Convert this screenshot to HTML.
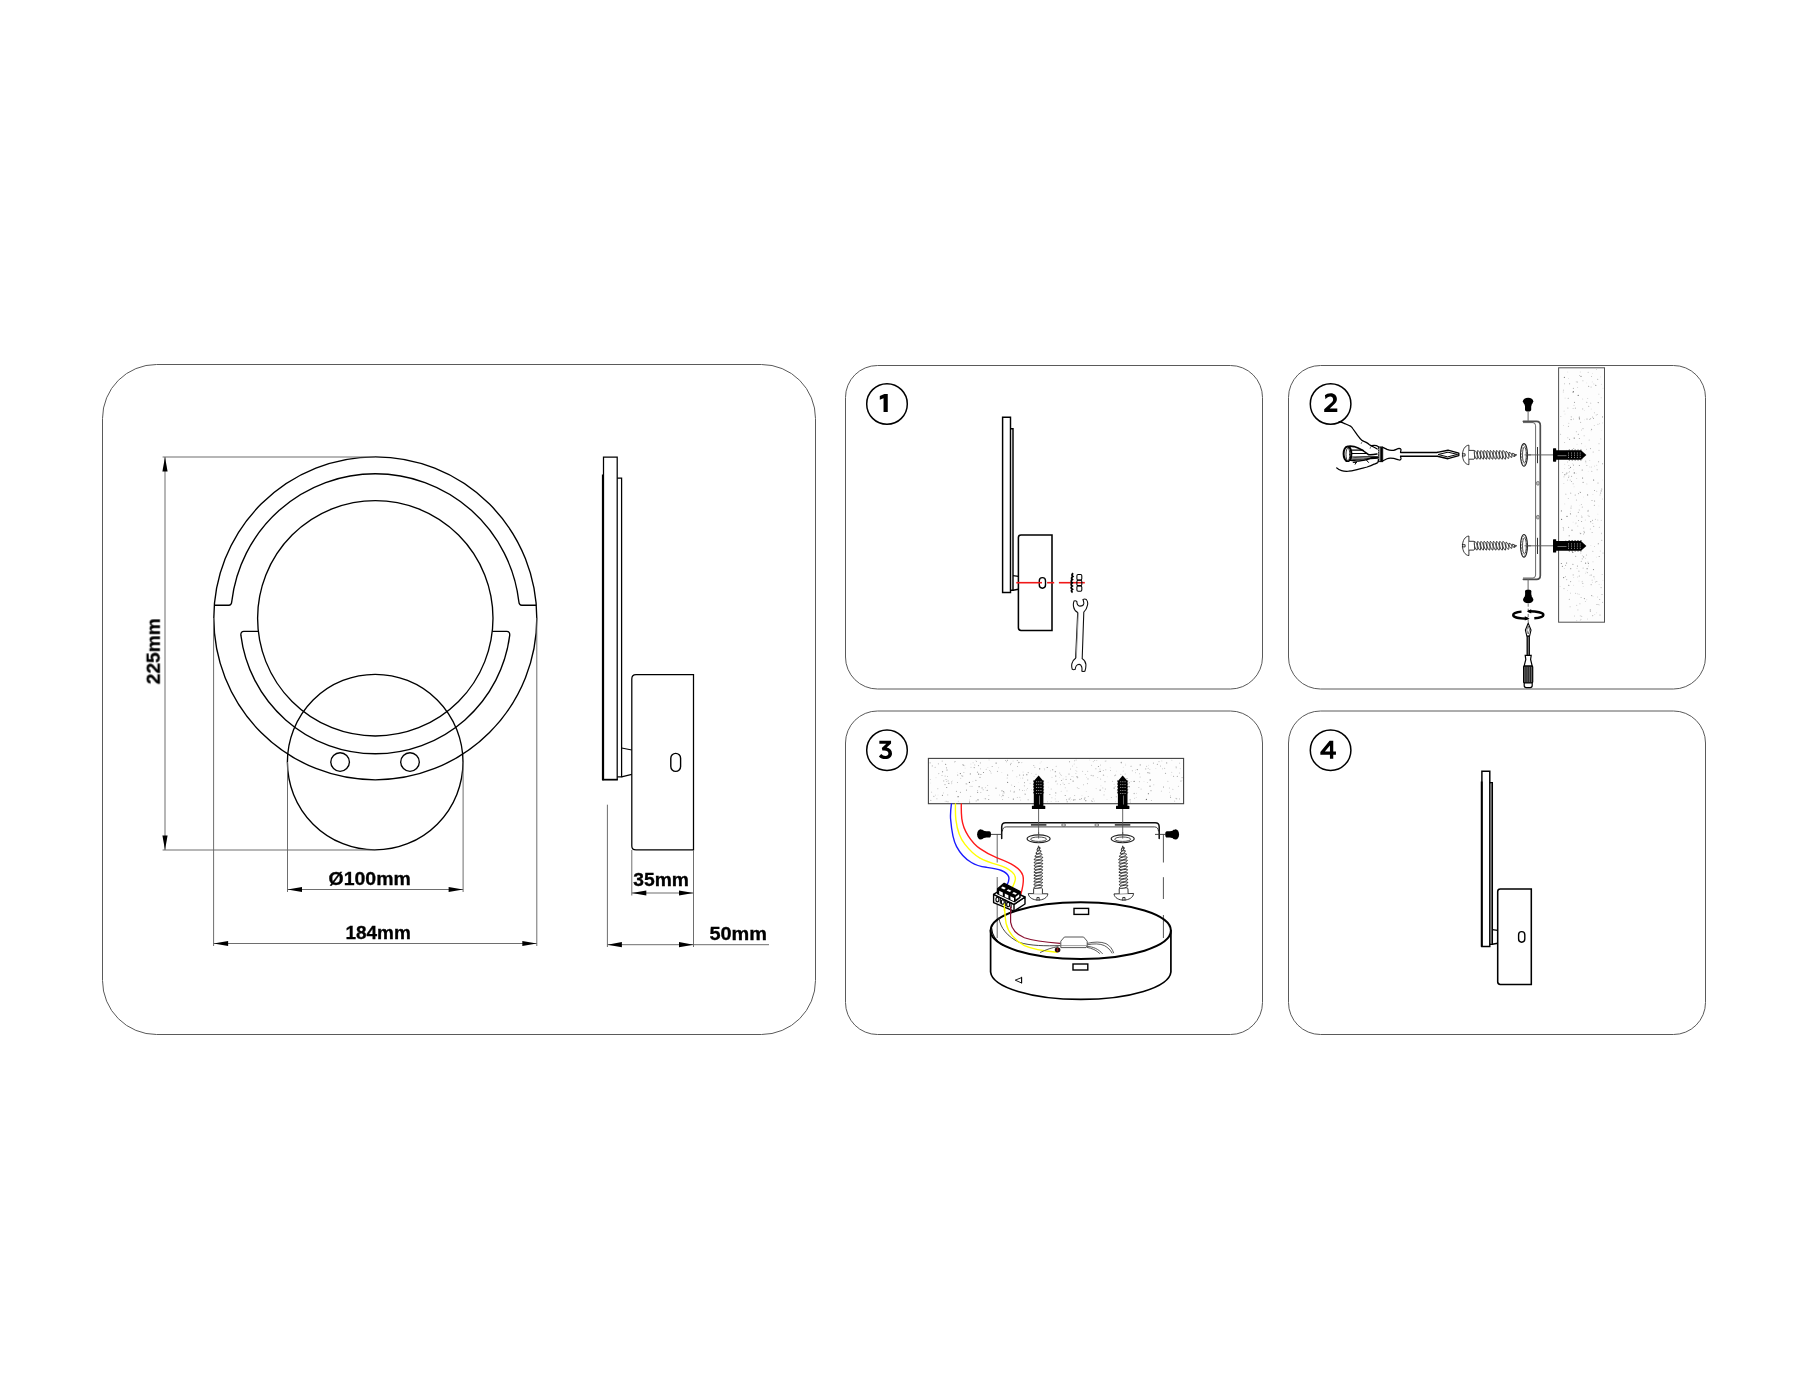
<!DOCTYPE html>
<html><head><meta charset="utf-8"><title>Installation diagram</title>
<style>
html,body{margin:0;padding:0;background:#fff;}
body{width:1800px;height:1400px;overflow:hidden;font-family:"Liberation Sans",sans-serif;}
svg{display:block;}
</style></head><body>
<svg width="1800" height="1400" viewBox="0 0 1800 1400">
<rect width="1800" height="1400" fill="#fff"/>
<g fill="none" stroke="#5a5a5a" stroke-width="1">
<rect x="102.5" y="364.5" width="713" height="670" rx="54" ry="54"/>
<rect x="845.5" y="365.5" width="417" height="323.5" rx="32" ry="32"/>
<rect x="1288.5" y="365.5" width="417" height="323.5" rx="32" ry="32"/>
<rect x="845.5" y="711" width="417" height="323.5" rx="32" ry="32"/>
<rect x="1288.5" y="711" width="417" height="323.5" rx="32" ry="32"/>
</g>
<g fill="none" stroke="#000" stroke-width="1.35">
<circle cx="375.3" cy="618.3" r="161.5"/>
<circle cx="375.3" cy="618.3" r="117.7"/>
<path d="M 214.33 605.20 H 228.79 Q 231.49 605.20 231.79 601.40 A 144.5 144.5 0 0 1 518.81 601.40 Q 519.11 605.20 521.81 605.20 H 536.27"/>
<path d="M 258.33 631.40 H 243.86 Q 240.66 631.40 240.86 635.20 A 135.5 135.5 0 0 0 509.74 635.20 Q 509.94 631.40 506.74 631.40 H 492.27"/>
<circle cx="375.2" cy="762.1" r="87.8"/>
<circle cx="340.1" cy="762" r="9.3"/>
<circle cx="410" cy="762" r="9.3"/>
</g>
<g>
<line x1="165.00" y1="457.00" x2="165.00" y2="850.00" stroke="#666" stroke-width="0.95" />
<line x1="162.60" y1="457.00" x2="375.00" y2="457.00" stroke="#666" stroke-width="0.95" />
<line x1="162.60" y1="850.00" x2="375.00" y2="850.00" stroke="#666" stroke-width="0.95" />
<polygon points="165.00,457.00 162.40,471.50 167.60,471.50" fill="#000"/>
<polygon points="165.00,850.00 162.40,835.50 167.60,835.50" fill="#000"/>
<line x1="213.60" y1="618.00" x2="213.60" y2="946.00" stroke="#666" stroke-width="0.95" />
<line x1="536.80" y1="618.00" x2="536.80" y2="946.00" stroke="#666" stroke-width="0.95" />
<line x1="287.50" y1="762.00" x2="287.50" y2="892.00" stroke="#666" stroke-width="0.95" />
<line x1="463.10" y1="762.00" x2="463.10" y2="892.00" stroke="#666" stroke-width="0.95" />
<line x1="287.50" y1="889.50" x2="463.10" y2="889.50" stroke="#666" stroke-width="0.95" />
<polygon points="287.50,889.50 302.00,886.90 302.00,892.10" fill="#000"/>
<polygon points="463.10,889.50 448.60,886.90 448.60,892.10" fill="#000"/>
<line x1="213.60" y1="943.50" x2="536.80" y2="943.50" stroke="#666" stroke-width="0.95" />
<polygon points="213.60,943.50 228.10,940.90 228.10,946.10" fill="#000"/>
<polygon points="536.80,943.50 522.30,940.90 522.30,946.10" fill="#000"/>
</g>
<g opacity="0.999">
<text x="328.50" y="885.00" font-family="Liberation Sans, sans-serif" font-weight="bold" font-size="18" textLength="82.3" lengthAdjust="spacingAndGlyphs" text-anchor="start" stroke="#000" stroke-width="0.3">Ø100mm</text>
<text x="345.50" y="939.00" font-family="Liberation Sans, sans-serif" font-weight="bold" font-size="18" textLength="65.3" lengthAdjust="spacingAndGlyphs" text-anchor="start" stroke="#000" stroke-width="0.3">184mm</text>
<text x="160.00" y="684.30" font-family="Liberation Sans, sans-serif" font-weight="bold" font-size="18" textLength="66.0" lengthAdjust="spacingAndGlyphs" text-anchor="start" stroke="#000" stroke-width="0.3" transform="rotate(-90 160.00 684.30)">225mm</text>
<text x="633.30" y="885.50" font-family="Liberation Sans, sans-serif" font-weight="bold" font-size="18" textLength="55.7" lengthAdjust="spacingAndGlyphs" text-anchor="start" stroke="#000" stroke-width="0.3">35mm</text>
<text x="709.40" y="939.70" font-family="Liberation Sans, sans-serif" font-weight="bold" font-size="18" textLength="57.5" lengthAdjust="spacingAndGlyphs" text-anchor="start" stroke="#000" stroke-width="0.3">50mm</text>
</g>
<g fill="none" stroke="#000" stroke-width="1.25" stroke-linejoin="miter">
<path d="M 603.5 779.6 V 457 H 617.2 V 779.6 Z"/>
<path d="M 617.2 478 H 621.6 V 776.8 H 617.2"/>
<path d="M 621.6 748 L 631.8 750 M 621.6 776.8 L 631.8 774.4"/>
<path d="M 693.5 674.7 H 636 Q 631.8 674.7 631.8 679 V 846 Q 631.8 849.9 636 849.9 H 693.5 Z"/>
<rect x="670.8" y="753.4" width="9.8" height="18" rx="4.9" ry="4.9" stroke-width="1.4"/>
</g>
<line x1="602.90" y1="474.40" x2="602.90" y2="780.20" stroke="#000" stroke-width="2" />
<line x1="602.00" y1="779.60" x2="617.80" y2="779.60" stroke="#000" stroke-width="1.6" />
<line x1="607.40" y1="804.70" x2="607.40" y2="947.00" stroke="#666" stroke-width="0.95" />
<line x1="631.80" y1="850.00" x2="631.80" y2="895.50" stroke="#666" stroke-width="0.95" />
<line x1="693.50" y1="850.00" x2="693.50" y2="947.00" stroke="#666" stroke-width="0.95" />
<line x1="631.80" y1="893.00" x2="693.50" y2="893.00" stroke="#666" stroke-width="0.95" />
<polygon points="631.80,893.00 646.30,890.40 646.30,895.60" fill="#000"/>
<polygon points="693.50,893.00 679.00,890.40 679.00,895.60" fill="#000"/>
<line x1="607.40" y1="944.70" x2="769.00" y2="944.70" stroke="#666" stroke-width="0.95" />
<polygon points="607.40,944.70 621.90,942.10 621.90,947.30" fill="#000"/>
<polygon points="693.50,944.70 679.00,942.10 679.00,947.30" fill="#000"/>
<circle cx="887.00" cy="404.00" r="20.3" fill="none" stroke="#000" stroke-width="1.5"/>
<path d="M 887.75 393.95 H 884.4 L 879.8 396.1 V 399.7 L 883.55 398.3 V 411.95 H 887.75 Z" fill="#000" fill-rule="evenodd"/>
<circle cx="1330.60" cy="404.00" r="20.3" fill="none" stroke="#000" stroke-width="1.5"/>
<path d="M 1324.9 395.3 C 1326.3 394 1328.3 393.2 1330.7 393.2 C 1334.4 393.2 1336.9 395.6 1336.9 399 C 1336.9 401.2 1336 402.7 1334.2 404.3 L 1329.7 408.5 H 1337.3 V 411.95 H 1324.2 V 409.2 L 1331.6 402.6 C 1332.8 401.5 1333.1 400.6 1333.1 399.5 C 1333.1 397.7 1331.9 396.6 1330.3 396.6 C 1328.5 396.6 1327.1 397.5 1325.5 399.2 Z" fill="#000" fill-rule="evenodd"/>
<circle cx="887.00" cy="750.20" r="20.3" fill="none" stroke="#000" stroke-width="1.5"/>
<path d="M 879.35 740.85 H 891.05 V 743.5 L 886.7 747.6 C 889.9 748.2 892 750.2 892 753.4 C 892 756.8 889.3 759.1 885.4 759.1 C 882.6 759.1 880.5 758.1 878.9 756.4 L 881.2 754.1 C 882.4 755.4 883.7 756 885.4 756 C 887.2 756 888.4 755 888.4 753.3 C 888.4 751.4 886.8 750.4 884.2 750.4 H 882.4 L 881.8 748 L 886.3 743.85 H 879.35 Z" fill="#000" fill-rule="evenodd"/>
<circle cx="1330.60" cy="750.20" r="20.3" fill="none" stroke="#000" stroke-width="1.5"/>
<path d="M 1333.25 740.85 H 1329.6 L 1320.35 751.9 V 754.65 H 1329.95 V 758.85 H 1333.25 V 754.65 H 1335.95 V 751.5 H 1333.25 Z M 1329.95 745.5 V 751.5 H 1324.9 Z" fill="#000" fill-rule="evenodd"/>
<g transform="translate(0.0 0.0)" fill="none" stroke="#000" stroke-width="1.45">
<path d="M 1002.6 592.4 V 417.3 H 1010.5 V 592.4 Z"/>
<path d="M 1010.5 428.7 H 1013 V 590.3 H 1010.5"/>
<path d="M 1013 575.6 L 1018.4 576.4 M 1013 590.3 L 1018.4 589.3"/>
<path d="M 1052 535 H 1021 Q 1018.4 535 1018.4 537.6 V 627.8 Q 1018.4 630.4 1021 630.4 H 1052 Z" stroke-width="1.55"/>
<rect x="1039.3" y="577.6" width="6.2" height="10.6" rx="3.1" ry="3.1" stroke-width="1.4"/>
</g>
<g transform="translate(479.3 354.0)" fill="none" stroke="#000" stroke-width="1.45">
<path d="M 1002.6 592.4 V 417.3 H 1010.5 V 592.4 Z"/>
<path d="M 1010.5 428.7 H 1013 V 590.3 H 1010.5"/>
<path d="M 1002.4 427.5 V 592.8" stroke-width="1.9"/>
<path d="M 1011.9 429 V 590" stroke-width="1.2" stroke="#555"/>
<path d="M 1013 575.6 L 1018.4 576.4 M 1013 590.3 L 1018.4 589.3"/>
<path d="M 1052 535 H 1021 Q 1018.4 535 1018.4 537.6 V 627.8 Q 1018.4 630.4 1021 630.4 H 1052 Z" stroke-width="1.55"/>
<rect x="1039.3" y="577.6" width="6.2" height="10.6" rx="3.1" ry="3.1" stroke-width="1.4"/>
</g>
<g stroke="#f01818" stroke-width="1.6">
<line x1="1016.30" y1="582.70" x2="1042.00" y2="582.70" stroke="#f01818" stroke-width="1.6" />
<line x1="1047.10" y1="582.70" x2="1054.20" y2="582.70" stroke="#f01818" stroke-width="1.6" />
<line x1="1058.90" y1="582.70" x2="1084.80" y2="582.70" stroke="#f01818" stroke-width="1.6" />
</g>
<g fill="none" stroke="#000">
<path d="M 1073.2 573.2 q -2.2 1.6 -0.4 3.2 q -2.2 1.6 -0.4 3.2 q -2.2 1.6 -0.2 3.2 q -2 1.6 0 3.2 q -2.2 1.6 0.2 3.2 q -2 1.6 0.2 3.2" stroke-width="1.8"/>
<rect x="1076.9" y="574.5" width="4.9" height="5.4" rx="1.2" stroke-width="1.05"/>
<rect x="1076.9" y="580.2" width="4.9" height="5.4" rx="1.2" stroke-width="1.05"/>
<rect x="1076.9" y="585.9" width="4.9" height="5.4" rx="1.2" stroke-width="1.05"/>
</g>
<path d="M 1074 601.1 C 1075 600.6 1076 600.8 1076.8 601.5 C 1077 604.5 1078.2 606.1 1079.9 606.1 C 1082 606.1 1083.6 605 1083.8 603.4 C 1083.9 602 1083.4 600.6 1083 599.5 C 1084 599 1085.4 599 1086.3 599.5 C 1087.6 601 1087.9 603.4 1087.5 605.2 C 1087 608 1085.6 610.6 1083.8 612.2 L 1082.2 658.6 C 1084.4 660 1085.8 662.2 1085.9 664.4 C 1086 667 1085.6 669.4 1085 671 C 1084 671.6 1082.8 671.6 1081.8 671 C 1082.4 668.2 1081.6 664.6 1079.3 664.4 C 1076.8 664.2 1075.4 667 1075.2 669.3 C 1074.2 669.8 1073.2 669.8 1072.3 669.3 C 1071.6 667.4 1071.5 665.4 1071.9 663.6 C 1072.4 661.4 1073.8 659.4 1075.6 658.2 L 1077.7 612.6 C 1075.4 611.4 1074 609.2 1073.6 606.9 C 1073.2 604.8 1073.3 602.8 1074 601.1 Z" fill="#fff" stroke="#111" stroke-width="1.1"/>
<path d="M 1078.3 613 L 1076.3 658" stroke="#999" stroke-width="1" fill="none"/>
<rect x="1558.6" y="367.8" width="45.9" height="254.4" fill="#fdfdfd" stroke="#505050" stroke-width="1"/>
<circle cx="1579.5" cy="510.0" r="0.6" fill="#ccc"/><circle cx="1581.9" cy="517.0" r="0.6" fill="#999"/><circle cx="1587.1" cy="568.7" r="0.6" fill="#888"/><circle cx="1573.1" cy="392.1" r="0.6" fill="#666"/><circle cx="1601.5" cy="533.7" r="0.45" fill="#999"/><circle cx="1595.8" cy="385.2" r="0.5" fill="#666"/><circle cx="1597.8" cy="520.0" r="0.55" fill="#ccc"/><circle cx="1579.0" cy="581.1" r="0.5" fill="#ddd"/><circle cx="1587.6" cy="494.9" r="0.6" fill="#888"/><circle cx="1588.2" cy="471.6" r="0.45" fill="#ddd"/><circle cx="1590.5" cy="448.6" r="0.55" fill="#aaa"/><circle cx="1561.4" cy="510.9" r="0.6" fill="#888"/><circle cx="1564.7" cy="442.4" r="0.45" fill="#888"/><circle cx="1596.4" cy="369.4" r="0.45" fill="#aaa"/><circle cx="1580.3" cy="615.8" r="0.6" fill="#ccc"/><circle cx="1563.2" cy="527.5" r="0.55" fill="#bbb"/><circle cx="1563.8" cy="452.9" r="0.45" fill="#ccc"/><circle cx="1565.9" cy="547.0" r="0.45" fill="#666"/><circle cx="1580.0" cy="491.7" r="0.5" fill="#ddd"/><circle cx="1579.3" cy="417.2" r="0.6" fill="#999"/><circle cx="1587.7" cy="398.6" r="0.5" fill="#ccc"/><circle cx="1560.1" cy="586.6" r="0.45" fill="#bbb"/><circle cx="1569.1" cy="468.4" r="0.45" fill="#888"/><circle cx="1602.5" cy="422.9" r="0.45" fill="#bbb"/><circle cx="1593.2" cy="452.0" r="0.6" fill="#bbb"/><circle cx="1563.2" cy="392.0" r="0.45" fill="#aaa"/><circle cx="1585.9" cy="462.7" r="0.5" fill="#ccc"/><circle cx="1601.2" cy="490.9" r="0.6" fill="#999"/><circle cx="1567.9" cy="408.0" r="0.5" fill="#aaa"/><circle cx="1591.2" cy="409.1" r="0.5" fill="#ddd"/><circle cx="1589.6" cy="466.9" r="0.45" fill="#ccc"/><circle cx="1578.2" cy="395.4" r="0.55" fill="#666"/><circle cx="1570.3" cy="546.4" r="0.6" fill="#bbb"/><circle cx="1595.4" cy="519.3" r="0.5" fill="#bbb"/><circle cx="1600.0" cy="615.0" r="0.5" fill="#999"/><circle cx="1580.7" cy="533.6" r="0.55" fill="#888"/><circle cx="1569.2" cy="599.3" r="0.45" fill="#666"/><circle cx="1571.6" cy="481.4" r="0.45" fill="#666"/><circle cx="1567.7" cy="462.0" r="0.45" fill="#999"/><circle cx="1575.6" cy="593.3" r="0.5" fill="#bbb"/><circle cx="1585.4" cy="601.5" r="0.55" fill="#ccc"/><circle cx="1590.2" cy="611.3" r="0.45" fill="#666"/><circle cx="1580.8" cy="552.9" r="0.5" fill="#bbb"/><circle cx="1603.0" cy="388.2" r="0.55" fill="#ddd"/><circle cx="1591.7" cy="595.6" r="0.55" fill="#999"/><circle cx="1575.2" cy="541.5" r="0.6" fill="#888"/><circle cx="1600.6" cy="376.9" r="0.45" fill="#ccc"/><circle cx="1586.9" cy="465.4" r="0.45" fill="#666"/><circle cx="1563.5" cy="530.0" r="0.6" fill="#bbb"/><circle cx="1591.3" cy="467.0" r="0.6" fill="#ccc"/><circle cx="1579.9" cy="505.4" r="0.45" fill="#ddd"/><circle cx="1573.4" cy="391.4" r="0.5" fill="#666"/><circle cx="1601.2" cy="397.7" r="0.55" fill="#ccc"/><circle cx="1598.6" cy="461.8" r="0.5" fill="#999"/><circle cx="1582.3" cy="558.8" r="0.6" fill="#bbb"/><circle cx="1581.5" cy="430.0" r="0.55" fill="#ccc"/><circle cx="1568.6" cy="477.6" r="0.5" fill="#aaa"/><circle cx="1576.6" cy="515.9" r="0.5" fill="#bbb"/><circle cx="1565.9" cy="494.1" r="0.45" fill="#666"/><circle cx="1600.9" cy="438.9" r="0.45" fill="#999"/><circle cx="1579.4" cy="438.5" r="0.6" fill="#aaa"/><circle cx="1576.5" cy="500.0" r="0.6" fill="#bbb"/><circle cx="1573.8" cy="577.6" r="0.45" fill="#bbb"/><circle cx="1589.2" cy="440.0" r="0.55" fill="#bbb"/><circle cx="1588.0" cy="511.1" r="0.6" fill="#999"/><circle cx="1579.6" cy="375.5" r="0.5" fill="#bbb"/><circle cx="1593.5" cy="569.6" r="0.6" fill="#888"/><circle cx="1564.8" cy="503.9" r="0.45" fill="#bbb"/><circle cx="1589.5" cy="419.4" r="0.55" fill="#ccc"/><circle cx="1567.8" cy="372.0" r="0.45" fill="#ccc"/><circle cx="1567.8" cy="437.8" r="0.5" fill="#bbb"/><circle cx="1577.0" cy="568.4" r="0.45" fill="#aaa"/><circle cx="1577.7" cy="593.7" r="0.5" fill="#ccc"/><circle cx="1579.4" cy="418.8" r="0.6" fill="#666"/><circle cx="1583.7" cy="533.4" r="0.55" fill="#ddd"/><circle cx="1580.0" cy="533.0" r="0.45" fill="#aaa"/><circle cx="1591.1" cy="575.0" r="0.5" fill="#888"/><circle cx="1570.5" cy="467.4" r="0.55" fill="#888"/><circle cx="1583.1" cy="568.1" r="0.55" fill="#bbb"/><circle cx="1599.1" cy="584.4" r="0.45" fill="#bbb"/><circle cx="1561.7" cy="455.3" r="0.55" fill="#ccc"/><circle cx="1581.0" cy="376.4" r="0.6" fill="#888"/><circle cx="1594.4" cy="412.8" r="0.5" fill="#bbb"/><circle cx="1580.3" cy="620.7" r="0.6" fill="#ddd"/><circle cx="1600.7" cy="493.1" r="0.5" fill="#888"/><circle cx="1579.0" cy="509.8" r="0.5" fill="#ddd"/><circle cx="1582.5" cy="581.4" r="0.55" fill="#ddd"/><circle cx="1573.5" cy="465.1" r="0.55" fill="#aaa"/><circle cx="1596.6" cy="612.8" r="0.55" fill="#ddd"/><circle cx="1584.7" cy="419.8" r="0.45" fill="#ddd"/><circle cx="1581.7" cy="521.5" r="0.45" fill="#666"/><circle cx="1582.2" cy="470.0" r="0.6" fill="#888"/><circle cx="1564.1" cy="411.2" r="0.6" fill="#ddd"/><circle cx="1577.9" cy="609.9" r="0.55" fill="#ccc"/><circle cx="1570.7" cy="493.2" r="0.6" fill="#bbb"/><circle cx="1598.7" cy="604.5" r="0.55" fill="#ccc"/><circle cx="1564.8" cy="474.8" r="0.55" fill="#666"/><circle cx="1565.7" cy="565.2" r="0.45" fill="#666"/><circle cx="1568.4" cy="426.4" r="0.55" fill="#bbb"/><circle cx="1591.1" cy="430.8" r="0.45" fill="#ccc"/><circle cx="1581.5" cy="515.7" r="0.55" fill="#ddd"/><circle cx="1590.9" cy="545.6" r="0.45" fill="#ccc"/><circle cx="1576.2" cy="473.2" r="0.5" fill="#ddd"/><circle cx="1583.2" cy="586.5" r="0.5" fill="#ddd"/><circle cx="1582.8" cy="583.3" r="0.5" fill="#999"/><circle cx="1599.3" cy="527.2" r="0.5" fill="#bbb"/><circle cx="1573.7" cy="448.5" r="0.5" fill="#aaa"/><circle cx="1593.5" cy="418.2" r="0.5" fill="#888"/><circle cx="1598.2" cy="402.6" r="0.55" fill="#888"/><circle cx="1576.7" cy="478.6" r="0.5" fill="#ccc"/><circle cx="1568.7" cy="527.2" r="0.45" fill="#666"/><circle cx="1568.7" cy="540.9" r="0.45" fill="#bbb"/><circle cx="1590.3" cy="528.9" r="0.5" fill="#bbb"/><circle cx="1594.5" cy="490.5" r="0.45" fill="#666"/><circle cx="1592.8" cy="523.5" r="0.5" fill="#ccc"/><circle cx="1568.2" cy="398.2" r="0.5" fill="#999"/><circle cx="1602.6" cy="602.3" r="0.45" fill="#888"/><circle cx="1565.9" cy="540.5" r="0.45" fill="#888"/><circle cx="1574.1" cy="486.7" r="0.55" fill="#ddd"/><circle cx="1578.6" cy="520.4" r="0.45" fill="#666"/><circle cx="1596.3" cy="414.9" r="0.55" fill="#ccc"/><circle cx="1591.8" cy="471.2" r="0.5" fill="#aaa"/><circle cx="1564.2" cy="568.5" r="0.45" fill="#bbb"/><circle cx="1594.5" cy="546.5" r="0.5" fill="#ccc"/><circle cx="1581.7" cy="616.3" r="0.55" fill="#bbb"/><circle cx="1599.2" cy="556.5" r="0.6" fill="#999"/><circle cx="1565.8" cy="452.2" r="0.55" fill="#ddd"/><circle cx="1593.0" cy="561.7" r="0.5" fill="#ccc"/><circle cx="1591.1" cy="387.0" r="0.55" fill="#bbb"/><circle cx="1580.2" cy="372.0" r="0.45" fill="#bbb"/><circle cx="1570.1" cy="606.8" r="0.55" fill="#bbb"/><circle cx="1569.4" cy="471.4" r="0.45" fill="#999"/><circle cx="1576.8" cy="620.7" r="0.45" fill="#aaa"/><circle cx="1592.8" cy="615.7" r="0.45" fill="#666"/><circle cx="1586.5" cy="555.0" r="0.6" fill="#bbb"/><circle cx="1577.3" cy="382.0" r="0.6" fill="#aaa"/><circle cx="1560.6" cy="434.3" r="0.55" fill="#bbb"/><circle cx="1583.7" cy="497.0" r="0.45" fill="#ddd"/><circle cx="1587.5" cy="572.8" r="0.45" fill="#888"/><circle cx="1576.7" cy="605.3" r="0.6" fill="#ccc"/><circle cx="1601.7" cy="584.4" r="0.45" fill="#ddd"/><circle cx="1578.5" cy="493.6" r="0.6" fill="#bbb"/><circle cx="1585.7" cy="461.2" r="0.6" fill="#bbb"/><circle cx="1588.2" cy="510.2" r="0.55" fill="#bbb"/><circle cx="1561.3" cy="563.5" r="0.5" fill="#666"/><circle cx="1577.6" cy="541.3" r="0.55" fill="#666"/><circle cx="1592.2" cy="381.9" r="0.45" fill="#bbb"/><circle cx="1594.3" cy="425.5" r="0.55" fill="#ccc"/><circle cx="1601.8" cy="430.6" r="0.45" fill="#ddd"/><circle cx="1600.3" cy="551.0" r="0.5" fill="#ccc"/><circle cx="1602.1" cy="574.6" r="0.45" fill="#888"/><circle cx="1586.9" cy="483.9" r="0.45" fill="#aaa"/><circle cx="1575.4" cy="408.2" r="0.6" fill="#bbb"/><circle cx="1566.1" cy="474.1" r="0.6" fill="#bbb"/><circle cx="1575.7" cy="556.3" r="0.55" fill="#999"/><circle cx="1591.6" cy="429.2" r="0.55" fill="#888"/><circle cx="1593.7" cy="526.4" r="0.55" fill="#bbb"/><circle cx="1571.7" cy="541.5" r="0.55" fill="#aaa"/><circle cx="1592.4" cy="417.0" r="0.5" fill="#aaa"/><circle cx="1597.8" cy="379.2" r="0.45" fill="#666"/><circle cx="1571.7" cy="476.2" r="0.45" fill="#666"/><circle cx="1569.6" cy="439.3" r="0.5" fill="#888"/><circle cx="1583.7" cy="528.0" r="0.6" fill="#bbb"/><circle cx="1580.6" cy="422.3" r="0.6" fill="#bbb"/><circle cx="1592.1" cy="580.1" r="0.45" fill="#888"/><circle cx="1579.3" cy="576.0" r="0.6" fill="#aaa"/><circle cx="1578.3" cy="434.2" r="0.55" fill="#999"/><circle cx="1566.7" cy="579.6" r="0.55" fill="#bbb"/><circle cx="1583.6" cy="556.9" r="0.6" fill="#999"/><circle cx="1588.1" cy="515.3" r="0.55" fill="#ccc"/><circle cx="1563.5" cy="390.2" r="0.6" fill="#ccc"/><circle cx="1572.9" cy="564.3" r="0.55" fill="#888"/><circle cx="1569.2" cy="535.8" r="0.55" fill="#888"/><circle cx="1581.3" cy="561.4" r="0.55" fill="#bbb"/><circle cx="1597.9" cy="424.3" r="0.55" fill="#bbb"/><circle cx="1599.0" cy="450.4" r="0.55" fill="#ccc"/><circle cx="1578.9" cy="571.2" r="0.6" fill="#bbb"/><circle cx="1573.7" cy="469.8" r="0.5" fill="#ddd"/><circle cx="1563.7" cy="577.6" r="0.55" fill="#666"/><circle cx="1589.1" cy="516.3" r="0.55" fill="#aaa"/><circle cx="1594.3" cy="505.2" r="0.5" fill="#999"/><circle cx="1563.9" cy="483.5" r="0.45" fill="#bbb"/><circle cx="1569.6" cy="383.8" r="0.55" fill="#999"/><circle cx="1601.6" cy="533.0" r="0.45" fill="#ccc"/><circle cx="1585.1" cy="446.1" r="0.45" fill="#ddd"/><circle cx="1574.5" cy="438.1" r="0.55" fill="#888"/><circle cx="1563.7" cy="528.7" r="0.45" fill="#999"/><circle cx="1592.1" cy="532.5" r="0.5" fill="#aaa"/><circle cx="1581.1" cy="597.5" r="0.6" fill="#bbb"/><circle cx="1577.0" cy="454.2" r="0.5" fill="#bbb"/><circle cx="1581.3" cy="504.4" r="0.45" fill="#888"/><circle cx="1577.7" cy="577.0" r="0.45" fill="#bbb"/><circle cx="1594.7" cy="578.9" r="0.45" fill="#ccc"/><circle cx="1582.6" cy="547.8" r="0.6" fill="#888"/><circle cx="1599.7" cy="599.5" r="0.5" fill="#aaa"/><circle cx="1602.6" cy="463.7" r="0.55" fill="#999"/><circle cx="1568.9" cy="476.1" r="0.55" fill="#bbb"/><circle cx="1601.7" cy="384.2" r="0.45" fill="#bbb"/><circle cx="1573.1" cy="408.4" r="0.45" fill="#999"/><circle cx="1592.4" cy="373.6" r="0.45" fill="#ccc"/><circle cx="1573.5" cy="419.0" r="0.5" fill="#bbb"/><circle cx="1585.3" cy="520.1" r="0.5" fill="#ccc"/><circle cx="1579.1" cy="594.2" r="0.5" fill="#ccc"/><circle cx="1599.2" cy="605.0" r="0.6" fill="#ddd"/><circle cx="1596.7" cy="491.2" r="0.55" fill="#ccc"/><circle cx="1588.4" cy="563.3" r="0.6" fill="#888"/><circle cx="1597.1" cy="469.7" r="0.5" fill="#aaa"/><circle cx="1594.5" cy="466.1" r="0.55" fill="#ddd"/><circle cx="1593.9" cy="383.9" r="0.45" fill="#aaa"/><circle cx="1597.6" cy="596.9" r="0.5" fill="#ccc"/><circle cx="1590.7" cy="521.7" r="0.6" fill="#999"/><circle cx="1566.8" cy="450.2" r="0.5" fill="#bbb"/><circle cx="1587.4" cy="619.0" r="0.45" fill="#bbb"/><circle cx="1566.6" cy="563.0" r="0.5" fill="#666"/><circle cx="1595.3" cy="582.0" r="0.45" fill="#999"/><circle cx="1575.2" cy="523.9" r="0.45" fill="#ddd"/><circle cx="1598.3" cy="543.7" r="0.55" fill="#888"/><circle cx="1560.9" cy="416.5" r="0.45" fill="#aaa"/><circle cx="1593.6" cy="480.0" r="0.6" fill="#666"/><circle cx="1582.7" cy="408.9" r="0.55" fill="#bbb"/><circle cx="1573.4" cy="388.4" r="0.6" fill="#bbb"/><circle cx="1588.7" cy="386.2" r="0.5" fill="#888"/><circle cx="1564.6" cy="468.4" r="0.45" fill="#ccc"/><circle cx="1588.2" cy="372.4" r="0.6" fill="#ccc"/><circle cx="1570.3" cy="511.1" r="0.45" fill="#ccc"/><circle cx="1596.8" cy="581.6" r="0.5" fill="#aaa"/><circle cx="1572.6" cy="463.8" r="0.55" fill="#ddd"/><circle cx="1601.0" cy="559.1" r="0.45" fill="#ddd"/><circle cx="1571.1" cy="419.6" r="0.55" fill="#888"/><circle cx="1573.4" cy="438.1" r="0.55" fill="#ccc"/><circle cx="1579.3" cy="465.4" r="0.5" fill="#888"/><circle cx="1586.8" cy="402.3" r="0.5" fill="#999"/><circle cx="1568.4" cy="378.5" r="0.45" fill="#ccc"/><circle cx="1564.4" cy="377.4" r="0.6" fill="#888"/><circle cx="1577.6" cy="387.6" r="0.5" fill="#ccc"/><circle cx="1587.9" cy="562.1" r="0.6" fill="#ccc"/><circle cx="1574.3" cy="472.9" r="0.6" fill="#666"/><circle cx="1586.4" cy="449.2" r="0.45" fill="#aaa"/><circle cx="1571.3" cy="416.8" r="0.6" fill="#bbb"/><circle cx="1564.7" cy="464.2" r="0.55" fill="#ddd"/><circle cx="1593.9" cy="576.8" r="0.55" fill="#999"/><circle cx="1593.0" cy="596.3" r="0.5" fill="#ddd"/><circle cx="1575.2" cy="495.1" r="0.5" fill="#999"/><circle cx="1602.4" cy="499.0" r="0.45" fill="#aaa"/><circle cx="1587.0" cy="419.1" r="0.5" fill="#888"/><circle cx="1570.6" cy="514.2" r="0.55" fill="#bbb"/><circle cx="1564.0" cy="588.6" r="0.6" fill="#bbb"/><circle cx="1598.0" cy="483.0" r="0.5" fill="#999"/><circle cx="1598.9" cy="505.9" r="0.45" fill="#ddd"/><circle cx="1584.1" cy="435.8" r="0.5" fill="#bbb"/><circle cx="1565.4" cy="576.6" r="0.55" fill="#bbb"/><circle cx="1570.4" cy="513.5" r="0.5" fill="#999"/><circle cx="1585.7" cy="573.2" r="0.45" fill="#ccc"/><circle cx="1577.4" cy="566.1" r="0.55" fill="#999"/><circle cx="1592.5" cy="582.3" r="0.45" fill="#ccc"/><circle cx="1566.9" cy="472.9" r="0.5" fill="#666"/><circle cx="1582.7" cy="399.0" r="0.5" fill="#ccc"/><circle cx="1574.5" cy="402.4" r="0.55" fill="#aaa"/><circle cx="1562.4" cy="566.4" r="0.6" fill="#999"/><circle cx="1601.3" cy="520.2" r="0.55" fill="#ccc"/><circle cx="1577.8" cy="526.1" r="0.55" fill="#ccc"/><circle cx="1580.9" cy="619.3" r="0.6" fill="#ccc"/><circle cx="1565.1" cy="398.1" r="0.55" fill="#ddd"/><circle cx="1582.6" cy="478.0" r="0.55" fill="#666"/><circle cx="1599.0" cy="443.7" r="0.6" fill="#ccc"/><circle cx="1585.7" cy="558.3" r="0.45" fill="#bbb"/><circle cx="1570.6" cy="581.6" r="0.6" fill="#aaa"/><circle cx="1601.8" cy="488.9" r="0.5" fill="#888"/><circle cx="1583.5" cy="534.4" r="0.45" fill="#aaa"/><circle cx="1603.0" cy="553.0" r="0.6" fill="#bbb"/><circle cx="1584.3" cy="410.6" r="0.45" fill="#ccc"/><circle cx="1598.9" cy="394.1" r="0.45" fill="#999"/><circle cx="1597.9" cy="514.1" r="0.45" fill="#ccc"/><circle cx="1572.8" cy="552.4" r="0.55" fill="#666"/><circle cx="1567.5" cy="480.1" r="0.6" fill="#ccc"/><circle cx="1566.2" cy="543.3" r="0.45" fill="#aaa"/><circle cx="1573.2" cy="483.7" r="0.55" fill="#bbb"/><circle cx="1574.0" cy="405.3" r="0.5" fill="#ccc"/><circle cx="1568.8" cy="585.3" r="0.5" fill="#666"/><circle cx="1573.7" cy="585.3" r="0.45" fill="#ccc"/><circle cx="1567.5" cy="590.5" r="0.5" fill="#ddd"/><circle cx="1583.0" cy="428.7" r="0.45" fill="#666"/><circle cx="1573.2" cy="574.9" r="0.6" fill="#bbb"/><circle cx="1590.7" cy="403.2" r="0.6" fill="#ccc"/><circle cx="1563.5" cy="425.4" r="0.45" fill="#bbb"/><circle cx="1590.6" cy="418.7" r="0.5" fill="#999"/><circle cx="1581.6" cy="443.6" r="0.55" fill="#bbb"/><circle cx="1594.6" cy="501.1" r="0.5" fill="#888"/><circle cx="1602.0" cy="594.4" r="0.5" fill="#999"/><circle cx="1572.0" cy="530.2" r="0.6" fill="#888"/><circle cx="1602.3" cy="480.0" r="0.45" fill="#ddd"/><circle cx="1582.9" cy="380.7" r="0.55" fill="#bbb"/><circle cx="1578.3" cy="512.2" r="0.55" fill="#999"/><circle cx="1602.5" cy="416.9" r="0.55" fill="#999"/><circle cx="1591.6" cy="376.5" r="0.45" fill="#999"/><circle cx="1586.8" cy="599.7" r="0.45" fill="#ccc"/><circle cx="1600.0" cy="495.0" r="0.45" fill="#999"/><circle cx="1584.0" cy="531.4" r="0.55" fill="#bbb"/><circle cx="1588.3" cy="566.1" r="0.55" fill="#ddd"/><circle cx="1581.8" cy="581.8" r="0.5" fill="#ddd"/><circle cx="1585.6" cy="563.2" r="0.6" fill="#888"/><circle cx="1570.2" cy="480.0" r="0.5" fill="#bbb"/><circle cx="1571.2" cy="506.1" r="0.55" fill="#ccc"/><circle cx="1561.6" cy="519.3" r="0.6" fill="#666"/><circle cx="1597.5" cy="414.6" r="0.45" fill="#999"/><circle cx="1586.2" cy="572.0" r="0.6" fill="#ddd"/><circle cx="1591.1" cy="584.7" r="0.45" fill="#666"/><circle cx="1565.0" cy="414.1" r="0.5" fill="#ddd"/><circle cx="1586.8" cy="382.9" r="0.45" fill="#ccc"/><circle cx="1589.9" cy="575.4" r="0.55" fill="#ddd"/><circle cx="1592.9" cy="494.6" r="0.5" fill="#ddd"/><circle cx="1576.4" cy="431.7" r="0.6" fill="#ccc"/><circle cx="1562.7" cy="472.5" r="0.5" fill="#bbb"/><circle cx="1590.3" cy="609.9" r="0.6" fill="#999"/><circle cx="1592.5" cy="520.3" r="0.5" fill="#999"/><circle cx="1592.0" cy="500.5" r="0.45" fill="#666"/><circle cx="1570.4" cy="593.1" r="0.45" fill="#999"/><circle cx="1577.0" cy="444.2" r="0.45" fill="#ccc"/><circle cx="1601.8" cy="540.2" r="0.55" fill="#aaa"/><circle cx="1571.0" cy="508.0" r="0.6" fill="#aaa"/><circle cx="1579.9" cy="603.7" r="0.55" fill="#bbb"/><circle cx="1574.6" cy="616.0" r="0.45" fill="#aaa"/><circle cx="1567.0" cy="516.4" r="0.55" fill="#666"/><circle cx="1584.4" cy="598.6" r="0.6" fill="#999"/><circle cx="1597.0" cy="604.5" r="0.6" fill="#aaa"/><circle cx="1576.3" cy="381.7" r="0.55" fill="#ccc"/><circle cx="1570.7" cy="568.7" r="0.6" fill="#999"/><circle cx="1568.8" cy="423.2" r="0.55" fill="#ccc"/><circle cx="1580.4" cy="492.5" r="0.6" fill="#999"/><circle cx="1568.9" cy="465.6" r="0.45" fill="#888"/><circle cx="1589.8" cy="460.5" r="0.45" fill="#bbb"/><circle cx="1582.4" cy="555.7" r="0.6" fill="#ddd"/><circle cx="1584.4" cy="532.6" r="0.55" fill="#aaa"/><circle cx="1564.5" cy="383.7" r="0.5" fill="#bbb"/><circle cx="1592.9" cy="551.2" r="0.45" fill="#888"/><circle cx="1602.9" cy="580.2" r="0.45" fill="#ccc"/><circle cx="1596.8" cy="465.2" r="0.45" fill="#bbb"/><circle cx="1573.1" cy="522.1" r="0.45" fill="#ccc"/><circle cx="1568.2" cy="498.5" r="0.45" fill="#999"/><circle cx="1569.0" cy="472.5" r="0.5" fill="#ccc"/><circle cx="1582.3" cy="507.1" r="0.6" fill="#bbb"/><circle cx="1588.7" cy="406.3" r="0.55" fill="#aaa"/><circle cx="1583.1" cy="482.3" r="0.6" fill="#999"/><circle cx="1582.3" cy="458.7" r="0.55" fill="#888"/><circle cx="1576.0" cy="523.0" r="0.45" fill="#999"/><circle cx="1596.5" cy="557.1" r="0.45" fill="#ccc"/><circle cx="1594.8" cy="614.6" r="0.45" fill="#bbb"/><circle cx="1599.5" cy="423.7" r="0.45" fill="#bbb"/><circle cx="1601.1" cy="587.6" r="0.55" fill="#aaa"/><circle cx="1564.0" cy="476.8" r="0.6" fill="#ccc"/>
<g fill="none" stroke-linecap="round">
<path d="M 1523.4 421.3 H 1536.6 Q 1540.3 421.3 1540.3 425.3 V 575.4 Q 1540.3 579.3 1536.6 579.3 H 1523.4" stroke="#4d4d4d" stroke-width="1.7"/>
<path d="M 1523.4 422.6 H 1533 Q 1535.6 422.8 1535.6 425.8 V 575 Q 1535.6 577.8 1533 578 H 1523.4" stroke="#444" stroke-width="0.8"/>
</g>
<line x1="1537.50" y1="447.00" x2="1537.50" y2="463.20" stroke="#333" stroke-width="1" />
<line x1="1537.50" y1="537.80" x2="1537.50" y2="554.00" stroke="#333" stroke-width="1" />
<ellipse cx="1537.9" cy="483.3" rx="1.6" ry="1.9" fill="#bbb" stroke="#666" stroke-width="0.7"/>
<ellipse cx="1537.9" cy="517.2" rx="1.6" ry="1.9" fill="#bbb" stroke="#666" stroke-width="0.7"/>
<line x1="1524.00" y1="454.90" x2="1553.50" y2="454.90" stroke="#555" stroke-width="0.9" />
<g fill="none" stroke="#222"><ellipse cx="1524" cy="454.9" rx="3.5" ry="11.3" stroke-width="1.1" fill="#fff"/><ellipse cx="1524.4" cy="454.9" rx="1.9" ry="8" stroke-width="0.8"/><ellipse cx="1524.1" cy="454.9" rx="2.7" ry="9.7" stroke-width="0.5" stroke-dasharray="1.5 1.5"/></g>
<line x1="1524.50" y1="454.90" x2="1531.00" y2="454.90" stroke="#555" stroke-width="0.9" />
<g fill="#fff" stroke="#151515" stroke-width="0.85"><path d="M 1468.90 445.10 C 1464.90 445.50 1462.50 449.90 1462.50 454.90 C 1462.50 459.90 1464.90 464.30 1468.90 464.70 Z"/><path d="M 1461.90 453.80 h 3.2 v 2.2 h -3.2" fill="none"/><path d="M 1468.90 450.40 h 5 l 0.8 1 v 6.8 l -0.8 1 h -5" fill="#fff"/><path d="M 1474.50 450.60 C 1476.70 450.60 1477.90 456.62 1477.10 459.20 C 1475.10 459.20 1473.70 453.18 1474.50 450.60 Z" stroke-width="0.85"/><path d="M 1477.65 450.60 C 1479.85 450.60 1481.05 456.62 1480.25 459.20 C 1478.25 459.20 1476.85 453.18 1477.65 450.60 Z" stroke-width="0.85"/><path d="M 1480.80 450.60 C 1483.00 450.60 1484.20 456.62 1483.40 459.20 C 1481.40 459.20 1480.00 453.18 1480.80 450.60 Z" stroke-width="0.85"/><path d="M 1483.95 450.60 C 1486.15 450.60 1487.35 456.62 1486.55 459.20 C 1484.55 459.20 1483.15 453.18 1483.95 450.60 Z" stroke-width="0.85"/><path d="M 1487.10 450.60 C 1489.30 450.60 1490.50 456.62 1489.70 459.20 C 1487.70 459.20 1486.30 453.18 1487.10 450.60 Z" stroke-width="0.85"/><path d="M 1490.25 450.60 C 1492.45 450.60 1493.65 456.62 1492.85 459.20 C 1490.85 459.20 1489.45 453.18 1490.25 450.60 Z" stroke-width="0.85"/><path d="M 1493.40 450.60 C 1495.60 450.60 1496.80 456.62 1496.00 459.20 C 1494.00 459.20 1492.60 453.18 1493.40 450.60 Z" stroke-width="0.85"/><path d="M 1496.55 450.60 C 1498.75 450.60 1499.95 456.62 1499.15 459.20 C 1497.15 459.20 1495.75 453.18 1496.55 450.60 Z" stroke-width="0.85"/><path d="M 1499.70 450.60 C 1501.90 450.60 1503.10 456.62 1502.30 459.20 C 1500.30 459.20 1498.90 453.18 1499.70 450.60 Z" stroke-width="0.85"/><path d="M 1502.85 450.60 C 1505.05 450.60 1506.25 456.62 1505.45 459.20 C 1503.45 459.20 1502.05 453.18 1502.85 450.60 Z" stroke-width="0.85"/><path d="M 1506.00 451.37 C 1508.20 451.37 1509.40 456.31 1508.60 458.43 C 1506.60 458.43 1505.20 453.49 1506.00 451.37 Z" stroke-width="0.85"/><path d="M 1509.15 452.34 C 1511.35 452.34 1512.55 455.93 1511.75 457.46 C 1509.75 457.46 1508.35 453.87 1509.15 452.34 Z" stroke-width="0.85"/><path d="M 1512.30 453.30 C 1514.50 453.30 1515.70 455.54 1514.90 456.50 C 1512.90 456.50 1511.50 454.26 1512.30 453.30 Z" stroke-width="0.85"/><path d="M 1513.50 453.90 L 1516.80 454.90 L 1513.50 455.90" fill="none" stroke-width="0.7"/></g>
<g fill="#000" stroke="none"><rect x="1553.00" y="448.30" width="3.2" height="13.4" rx="0.6"/><path d="M 1556.00 450.20 H 1581.00 L 1586.40 455.00 L 1581.00 459.80 H 1556.00 Z"/><path d="M 1568.00 450.20 l 1.4 -0.8 l 1 0.8 Z M 1568.00 459.80 l 1.4 0.8 l 1 -0.8 Z"/><path d="M 1570.90 450.20 l 1.4 -0.8 l 1 0.8 Z M 1570.90 459.80 l 1.4 0.8 l 1 -0.8 Z"/><path d="M 1573.80 450.20 l 1.4 -0.8 l 1 0.8 Z M 1573.80 459.80 l 1.4 0.8 l 1 -0.8 Z"/><path d="M 1576.70 450.20 l 1.4 -0.8 l 1 0.8 Z M 1576.70 459.80 l 1.4 0.8 l 1 -0.8 Z"/><path d="M 1579.60 450.20 l 1.4 -0.8 l 1 0.8 Z M 1579.60 459.80 l 1.4 0.8 l 1 -0.8 Z"/></g><g fill="#fff"><rect x="1568.20" y="452.60" width="0.8" height="0.9" opacity="0.85"/><rect x="1568.20" y="454.70" width="0.8" height="0.9" opacity="0.85"/><rect x="1568.20" y="456.90" width="0.8" height="0.9" opacity="0.85"/><rect x="1571.10" y="452.60" width="0.8" height="0.9" opacity="0.85"/><rect x="1571.10" y="454.70" width="0.8" height="0.9" opacity="0.85"/><rect x="1571.10" y="456.90" width="0.8" height="0.9" opacity="0.85"/><rect x="1574.00" y="452.60" width="0.8" height="0.9" opacity="0.85"/><rect x="1574.00" y="454.70" width="0.8" height="0.9" opacity="0.85"/><rect x="1574.00" y="456.90" width="0.8" height="0.9" opacity="0.85"/><rect x="1576.90" y="452.60" width="0.8" height="0.9" opacity="0.85"/><rect x="1576.90" y="454.70" width="0.8" height="0.9" opacity="0.85"/><rect x="1576.90" y="456.90" width="0.8" height="0.9" opacity="0.85"/><rect x="1579.80" y="452.60" width="0.8" height="0.9" opacity="0.85"/><rect x="1579.80" y="454.70" width="0.8" height="0.9" opacity="0.85"/><rect x="1579.80" y="456.90" width="0.8" height="0.9" opacity="0.85"/><rect x="1557.50" y="455.40" width="9" height="0.7" opacity="0.6"/></g>
<line x1="1524.00" y1="545.80" x2="1553.50" y2="545.80" stroke="#555" stroke-width="0.9" />
<g fill="none" stroke="#222"><ellipse cx="1524" cy="545.8" rx="3.5" ry="11.3" stroke-width="1.1" fill="#fff"/><ellipse cx="1524.4" cy="545.8" rx="1.9" ry="8" stroke-width="0.8"/><ellipse cx="1524.1" cy="545.8" rx="2.7" ry="9.7" stroke-width="0.5" stroke-dasharray="1.5 1.5"/></g>
<line x1="1524.50" y1="545.80" x2="1531.00" y2="545.80" stroke="#555" stroke-width="0.9" />
<g fill="#fff" stroke="#151515" stroke-width="0.85"><path d="M 1468.90 536.00 C 1464.90 536.40 1462.50 540.80 1462.50 545.80 C 1462.50 550.80 1464.90 555.20 1468.90 555.60 Z"/><path d="M 1461.90 544.70 h 3.2 v 2.2 h -3.2" fill="none"/><path d="M 1468.90 541.30 h 5 l 0.8 1 v 6.8 l -0.8 1 h -5" fill="#fff"/><path d="M 1474.50 541.50 C 1476.70 541.50 1477.90 547.52 1477.10 550.10 C 1475.10 550.10 1473.70 544.08 1474.50 541.50 Z" stroke-width="0.85"/><path d="M 1477.65 541.50 C 1479.85 541.50 1481.05 547.52 1480.25 550.10 C 1478.25 550.10 1476.85 544.08 1477.65 541.50 Z" stroke-width="0.85"/><path d="M 1480.80 541.50 C 1483.00 541.50 1484.20 547.52 1483.40 550.10 C 1481.40 550.10 1480.00 544.08 1480.80 541.50 Z" stroke-width="0.85"/><path d="M 1483.95 541.50 C 1486.15 541.50 1487.35 547.52 1486.55 550.10 C 1484.55 550.10 1483.15 544.08 1483.95 541.50 Z" stroke-width="0.85"/><path d="M 1487.10 541.50 C 1489.30 541.50 1490.50 547.52 1489.70 550.10 C 1487.70 550.10 1486.30 544.08 1487.10 541.50 Z" stroke-width="0.85"/><path d="M 1490.25 541.50 C 1492.45 541.50 1493.65 547.52 1492.85 550.10 C 1490.85 550.10 1489.45 544.08 1490.25 541.50 Z" stroke-width="0.85"/><path d="M 1493.40 541.50 C 1495.60 541.50 1496.80 547.52 1496.00 550.10 C 1494.00 550.10 1492.60 544.08 1493.40 541.50 Z" stroke-width="0.85"/><path d="M 1496.55 541.50 C 1498.75 541.50 1499.95 547.52 1499.15 550.10 C 1497.15 550.10 1495.75 544.08 1496.55 541.50 Z" stroke-width="0.85"/><path d="M 1499.70 541.50 C 1501.90 541.50 1503.10 547.52 1502.30 550.10 C 1500.30 550.10 1498.90 544.08 1499.70 541.50 Z" stroke-width="0.85"/><path d="M 1502.85 541.50 C 1505.05 541.50 1506.25 547.52 1505.45 550.10 C 1503.45 550.10 1502.05 544.08 1502.85 541.50 Z" stroke-width="0.85"/><path d="M 1506.00 542.27 C 1508.20 542.27 1509.40 547.21 1508.60 549.33 C 1506.60 549.33 1505.20 544.39 1506.00 542.27 Z" stroke-width="0.85"/><path d="M 1509.15 543.24 C 1511.35 543.24 1512.55 546.83 1511.75 548.36 C 1509.75 548.36 1508.35 544.77 1509.15 543.24 Z" stroke-width="0.85"/><path d="M 1512.30 544.20 C 1514.50 544.20 1515.70 546.44 1514.90 547.40 C 1512.90 547.40 1511.50 545.16 1512.30 544.20 Z" stroke-width="0.85"/><path d="M 1513.50 544.80 L 1516.80 545.80 L 1513.50 546.80" fill="none" stroke-width="0.7"/></g>
<g fill="#000" stroke="none"><rect x="1553.00" y="539.20" width="3.2" height="13.4" rx="0.6"/><path d="M 1556.00 541.10 H 1581.00 L 1586.40 545.90 L 1581.00 550.70 H 1556.00 Z"/><path d="M 1568.00 541.10 l 1.4 -0.8 l 1 0.8 Z M 1568.00 550.70 l 1.4 0.8 l 1 -0.8 Z"/><path d="M 1570.90 541.10 l 1.4 -0.8 l 1 0.8 Z M 1570.90 550.70 l 1.4 0.8 l 1 -0.8 Z"/><path d="M 1573.80 541.10 l 1.4 -0.8 l 1 0.8 Z M 1573.80 550.70 l 1.4 0.8 l 1 -0.8 Z"/><path d="M 1576.70 541.10 l 1.4 -0.8 l 1 0.8 Z M 1576.70 550.70 l 1.4 0.8 l 1 -0.8 Z"/><path d="M 1579.60 541.10 l 1.4 -0.8 l 1 0.8 Z M 1579.60 550.70 l 1.4 0.8 l 1 -0.8 Z"/></g><g fill="#fff"><rect x="1568.20" y="543.50" width="0.8" height="0.9" opacity="0.85"/><rect x="1568.20" y="545.60" width="0.8" height="0.9" opacity="0.85"/><rect x="1568.20" y="547.80" width="0.8" height="0.9" opacity="0.85"/><rect x="1571.10" y="543.50" width="0.8" height="0.9" opacity="0.85"/><rect x="1571.10" y="545.60" width="0.8" height="0.9" opacity="0.85"/><rect x="1571.10" y="547.80" width="0.8" height="0.9" opacity="0.85"/><rect x="1574.00" y="543.50" width="0.8" height="0.9" opacity="0.85"/><rect x="1574.00" y="545.60" width="0.8" height="0.9" opacity="0.85"/><rect x="1574.00" y="547.80" width="0.8" height="0.9" opacity="0.85"/><rect x="1576.90" y="543.50" width="0.8" height="0.9" opacity="0.85"/><rect x="1576.90" y="545.60" width="0.8" height="0.9" opacity="0.85"/><rect x="1576.90" y="547.80" width="0.8" height="0.9" opacity="0.85"/><rect x="1579.80" y="543.50" width="0.8" height="0.9" opacity="0.85"/><rect x="1579.80" y="545.60" width="0.8" height="0.9" opacity="0.85"/><rect x="1579.80" y="547.80" width="0.8" height="0.9" opacity="0.85"/><rect x="1557.50" y="546.30" width="9" height="0.7" opacity="0.6"/></g>
<g transform="translate(1528.10 397.80) rotate(90)"><g fill="#000"><ellipse cx="3.4" cy="0" rx="3.5" ry="5.2"/><path d="M 3 -3.1 H 12 Q 13.8 -3.1 13.8 0 Q 13.8 3.1 12 3.1 H 3 Z"/><path d="M 5 -4.8 Q 6.5 -3.2 8.5 -3.1 V 3.1 Q 6.5 3.2 5 4.8 Z"/></g></g>
<line x1="1528.10" y1="411.40" x2="1528.10" y2="421.30" stroke="#666" stroke-width="1" />
<g transform="translate(1528.20 603.20) rotate(-90)"><g fill="#000"><ellipse cx="3.4" cy="0" rx="3.5" ry="5.2"/><path d="M 3 -3.1 H 12 Q 13.8 -3.1 13.8 0 Q 13.8 3.1 12 3.1 H 3 Z"/><path d="M 5 -4.8 Q 6.5 -3.2 8.5 -3.1 V 3.1 Q 6.5 3.2 5 4.8 Z"/></g></g>
<line x1="1528.10" y1="579.30" x2="1528.10" y2="590.00" stroke="#666" stroke-width="1" />
<line x1="1528.20" y1="603.50" x2="1528.20" y2="623.00" stroke="#777" stroke-width="1" stroke-dasharray="3.2 2"/>
<g fill="none" stroke="#000" stroke-width="2.4" stroke-linecap="butt">
<path d="M 1521.5 611.6 C 1516.5 612 1513.2 613.4 1513.2 614.9 C 1513.2 617 1519.5 618.6 1527.5 618.6"/>
<path d="M 1528.5 611.3 C 1537 611.2 1543.4 612.8 1543.4 614.9 C 1543.4 616.5 1539.6 617.9 1534.3 618.3"/>
</g>
<path d="M 1529.6 618.6 L 1524.8 616.2 L 1524.8 620.6 Z M 1526.8 611.3 L 1531.2 609.2 L 1531.2 613.6 Z" fill="#000"/>
<g stroke="#000" fill="#fff">
<path d="M 1528.2 623.1 L 1531 630 L 1529.6 636 H 1526.8 L 1525.4 630 Z" stroke-width="1.1"/>
<path d="M 1528.2 626 L 1529.6 630 L 1528.2 634 L 1526.8 630 Z" stroke-width="0.5"/>
<rect x="1526.5" y="635.8" width="3.5" height="19.6" fill="#111" stroke="none"/>
<rect x="1527.9" y="637" width="0.7" height="18" fill="#aaa" stroke="none"/>
<path d="M 1525.2 655.4 H 1531.2 L 1530.6 659.5 L 1532.2 666.2 H 1524.1 L 1525.8 659.5 Z" stroke-width="1.2"/>
<rect x="1523.6" y="666.2" width="9.1" height="16.6" rx="0.8" fill="#666" stroke-width="1.2"/>
<path d="M 1526 667 V 682.4 M 1528.2 667 V 682.4 M 1530.4 667 V 682.4" stroke="#111" stroke-width="0.9" fill="none"/>
<path d="M 1524.2 682.8 H 1532.2 V 685.6 Q 1532.2 687.6 1530.2 687.6 H 1526.2 Q 1524.2 687.6 1524.2 685.6 Z" stroke-width="1.2"/>
</g>
<g fill="none" stroke="#000" stroke-linecap="round" stroke-linejoin="round">
<circle cx="1339.4" cy="421.8" r="0.9" fill="#000" stroke="none"/>
<path d="M 1339.3 421.7 C 1341.5 422.4 1343.5 423.1 1345.3 423.8 C 1347.4 424.7 1349.4 425.5 1350.9 426.4 C 1351.8 427 1352.3 427.7 1352.7 428.5 L 1356 433.1 C 1356.9 434.4 1357.8 435.6 1358.8 436.8 C 1359.6 438 1360.5 439.2 1361.6 440.1 C 1363 441 1364.6 441.6 1366.2 442.4 C 1367.4 443.1 1368.5 443.9 1369.5 444.7 C 1370.3 445.2 1371 445.7 1371.8 446.1 C 1372.7 446.6 1373.7 447 1374.6 447.5 L 1377.2 449" stroke-width="1.25"/>
<path d="M 1371.3 445.7 C 1373 445.4 1374.8 445.4 1376.4 445.6 C 1377.3 446 1378 446.4 1378.7 447" stroke-width="1.25"/>
<path d="M 1336.7 467.9 C 1338 469.3 1339.6 470.2 1341.6 470.7 C 1343.8 471.3 1346.2 471.4 1348.6 471.2 C 1351.8 470.8 1354.8 470 1357.9 469.3 C 1361 468.6 1364.1 467.9 1367.1 467 C 1369.5 466.2 1371.9 465.3 1374.1 464.2 C 1375.5 463.6 1376.9 463.2 1377.8 462.4 C 1378.3 461.6 1378.4 460.6 1378.3 459.6" stroke-width="1.3"/>
<ellipse cx="1347.5" cy="453.8" rx="3.9" ry="7.3" stroke-width="2" fill="#fff"/>
<ellipse cx="1347.9" cy="454.4" rx="1.9" ry="6.4" stroke-width="0.8" fill="#fff"/>
<path d="M 1348.6 446.2 C 1350.6 446 1352.4 446.2 1354.1 446.6 C 1357 447.6 1359.8 448.9 1362.5 450.3 C 1364.6 451.6 1366.6 453.2 1368.5 454.7 C 1371.3 455 1374.2 454.6 1376.9 454" stroke-width="1.6"/>
<path d="M 1351.8 450.2 H 1362.2 M 1351.9 453.5 H 1366.6 M 1351.8 457 C 1360 457.2 1370 456.6 1378.2 456.9 M 1351.2 459 C 1360 459.8 1369 458.6 1377.8 458.2" stroke-width="1.2"/>
<path d="M 1350.3 447.2 C 1351.7 451 1351.8 456 1350.6 460.4" stroke-width="0.9" stroke-dasharray="1 1"/>
<path d="M 1350 460.4 C 1352.8 460.2 1355.8 461.2 1358.8 461 C 1361.8 460.8 1364.4 460.2 1367.1 459.6 C 1368.8 459 1370.3 458.2 1371.8 457.7 C 1373.3 457.3 1374.9 457.4 1376.4 457.5" stroke-width="1.4"/>
<path d="M 1353.2 462.4 H 1356.5 M 1356.4 462 L 1355.2 464.2 M 1366.2 459.8 L 1368.5 462.4" stroke-width="1"/>
<path d="M 1361.2 443.6 L 1361.7 442.4 M 1370.2 448.4 L 1370.6 447" stroke-width="0.8" stroke="#555"/>
<rect x="1380.3" y="447.2" width="2.5" height="14.4" fill="#000" stroke-width="0.6"/>
<path d="M 1378.6 447.6 V 461.4" stroke-width="0.9" stroke-dasharray="1.2 1.1"/>
<path d="M 1378.3 447 H 1382.6 M 1378.3 461.6 H 1382.6" stroke-width="0.9"/>
<path d="M 1382.8 447.3 C 1384.4 447.9 1385.8 448.7 1387.1 449.4 C 1389 450.3 1391.4 450.6 1393.6 450.3 C 1395.6 449.9 1397.4 448.6 1399.2 448.4 C 1400.2 448.4 1400.9 448.9 1401 449.6 C 1401.1 450.6 1400.4 451.3 1400.6 452.3 M 1382.8 460.8 C 1384.4 460.2 1385.8 459.3 1387.1 458.7 C 1389 457.8 1391.4 458.1 1393.6 458.4 C 1395.6 458.8 1397.4 459.9 1399.2 460 C 1400.2 460 1400.9 459.6 1401 458.9 C 1401.1 458 1400.4 457.2 1400.6 456.3" stroke-width="1.25"/>
<path d="M 1400.6 452.4 H 1438 M 1400.6 456.2 H 1438" stroke-width="1.45"/>
<path d="M 1437.4 452.4 L 1448 450.2 L 1458.8 453.2 V 455.6 L 1448 458.7 L 1437.4 456.3" stroke-width="1.4" fill="#fff"/>
<path d="M 1438.5 454.4 L 1448 452.2 L 1457.6 454.4 L 1448 456.8 Z" stroke-width="1.0"/>
</g>
<rect x="928.4" y="758.4" width="255.2" height="45.3" fill="#fdfdfd" stroke="#404040" stroke-width="1.1"/>
<circle cx="945.1" cy="776.1" r="0.55" fill="#bbb"/><circle cx="1055.3" cy="771.7" r="0.6" fill="#999"/><circle cx="980.8" cy="792.4" r="0.5" fill="#bbb"/><circle cx="1061.2" cy="791.3" r="0.5" fill="#ccc"/><circle cx="1050.5" cy="770.8" r="0.55" fill="#ddd"/><circle cx="1106.5" cy="760.9" r="0.45" fill="#ccc"/><circle cx="1021.8" cy="762.6" r="0.55" fill="#ccc"/><circle cx="943.7" cy="780.9" r="0.6" fill="#bbb"/><circle cx="1111.3" cy="797.4" r="0.45" fill="#888"/><circle cx="938.8" cy="773.6" r="0.55" fill="#bbb"/><circle cx="996.0" cy="788.2" r="0.6" fill="#999"/><circle cx="1026.8" cy="774.3" r="0.45" fill="#bbb"/><circle cx="1075.2" cy="799.8" r="0.45" fill="#888"/><circle cx="1086.5" cy="777.3" r="0.45" fill="#ccc"/><circle cx="999.6" cy="795.0" r="0.6" fill="#ccc"/><circle cx="1173.6" cy="776.2" r="0.55" fill="#999"/><circle cx="1007.7" cy="775.1" r="0.5" fill="#666"/><circle cx="1082.6" cy="771.3" r="0.5" fill="#bbb"/><circle cx="989.1" cy="759.9" r="0.6" fill="#ddd"/><circle cx="930.8" cy="783.0" r="0.45" fill="#ddd"/><circle cx="1087.4" cy="783.6" r="0.55" fill="#bbb"/><circle cx="1017.3" cy="797.4" r="0.5" fill="#bbb"/><circle cx="1105.3" cy="788.9" r="0.5" fill="#aaa"/><circle cx="970.1" cy="786.2" r="0.55" fill="#ccc"/><circle cx="1023.1" cy="772.0" r="0.6" fill="#ddd"/><circle cx="989.7" cy="770.4" r="0.5" fill="#bbb"/><circle cx="1161.3" cy="791.1" r="0.45" fill="#888"/><circle cx="1136.2" cy="797.4" r="0.45" fill="#bbb"/><circle cx="1144.0" cy="781.6" r="0.45" fill="#ccc"/><circle cx="970.9" cy="796.5" r="0.45" fill="#ccc"/><circle cx="1016.8" cy="776.7" r="0.55" fill="#ccc"/><circle cx="1110.5" cy="770.6" r="0.5" fill="#bbb"/><circle cx="1014.1" cy="792.0" r="0.6" fill="#999"/><circle cx="1091.6" cy="765.2" r="0.5" fill="#bbb"/><circle cx="961.5" cy="775.8" r="0.5" fill="#bbb"/><circle cx="1094.3" cy="801.1" r="0.5" fill="#ccc"/><circle cx="997.5" cy="771.4" r="0.6" fill="#bbb"/><circle cx="1027.4" cy="788.6" r="0.45" fill="#999"/><circle cx="969.6" cy="802.1" r="0.5" fill="#666"/><circle cx="1002.0" cy="790.8" r="0.6" fill="#888"/><circle cx="1013.1" cy="761.0" r="0.6" fill="#ddd"/><circle cx="973.1" cy="762.8" r="0.55" fill="#ccc"/><circle cx="986.3" cy="790.4" r="0.5" fill="#ccc"/><circle cx="1177.3" cy="776.4" r="0.55" fill="#aaa"/><circle cx="1131.7" cy="766.1" r="0.45" fill="#999"/><circle cx="1070.2" cy="797.8" r="0.6" fill="#ccc"/><circle cx="960.3" cy="773.6" r="0.55" fill="#666"/><circle cx="1072.6" cy="766.0" r="0.55" fill="#ccc"/><circle cx="1011.1" cy="763.3" r="0.55" fill="#aaa"/><circle cx="1069.0" cy="783.5" r="0.45" fill="#999"/><circle cx="931.7" cy="792.1" r="0.45" fill="#888"/><circle cx="975.9" cy="780.3" r="0.6" fill="#aaa"/><circle cx="1052.0" cy="777.4" r="0.6" fill="#ddd"/><circle cx="1070.5" cy="769.0" r="0.55" fill="#bbb"/><circle cx="977.5" cy="772.2" r="0.6" fill="#aaa"/><circle cx="1074.0" cy="799.7" r="0.5" fill="#666"/><circle cx="1146.1" cy="799.9" r="0.45" fill="#ddd"/><circle cx="1100.1" cy="771.4" r="0.55" fill="#666"/><circle cx="945.8" cy="779.6" r="0.45" fill="#aaa"/><circle cx="1171.8" cy="760.4" r="0.55" fill="#ddd"/><circle cx="1134.2" cy="793.4" r="0.6" fill="#ccc"/><circle cx="1007.6" cy="782.4" r="0.6" fill="#888"/><circle cx="1031.4" cy="789.7" r="0.45" fill="#bbb"/><circle cx="932.3" cy="765.9" r="0.6" fill="#bbb"/><circle cx="1112.6" cy="781.3" r="0.55" fill="#bbb"/><circle cx="1088.0" cy="778.9" r="0.55" fill="#bbb"/><circle cx="946.7" cy="787.5" r="0.55" fill="#888"/><circle cx="1014.3" cy="791.3" r="0.45" fill="#aaa"/><circle cx="1117.3" cy="783.0" r="0.5" fill="#aaa"/><circle cx="1017.5" cy="766.5" r="0.55" fill="#bbb"/><circle cx="975.9" cy="760.8" r="0.45" fill="#ccc"/><circle cx="1031.6" cy="773.5" r="0.5" fill="#ddd"/><circle cx="935.1" cy="767.3" r="0.45" fill="#888"/><circle cx="1075.9" cy="773.5" r="0.5" fill="#ccc"/><circle cx="1055.8" cy="792.9" r="0.55" fill="#999"/><circle cx="947.5" cy="776.4" r="0.5" fill="#bbb"/><circle cx="1126.0" cy="782.1" r="0.5" fill="#666"/><circle cx="1114.1" cy="787.9" r="0.5" fill="#666"/><circle cx="1085.4" cy="774.5" r="0.6" fill="#ccc"/><circle cx="1057.2" cy="783.9" r="0.45" fill="#888"/><circle cx="1141.1" cy="789.1" r="0.6" fill="#ccc"/><circle cx="1097.7" cy="777.6" r="0.5" fill="#ccc"/><circle cx="1024.6" cy="782.8" r="0.45" fill="#666"/><circle cx="1063.1" cy="779.0" r="0.45" fill="#bbb"/><circle cx="1079.9" cy="799.3" r="0.6" fill="#999"/><circle cx="1012.7" cy="770.7" r="0.5" fill="#bbb"/><circle cx="1115.7" cy="801.8" r="0.45" fill="#ccc"/><circle cx="1148.7" cy="765.3" r="0.45" fill="#ccc"/><circle cx="988.9" cy="795.4" r="0.45" fill="#999"/><circle cx="1131.1" cy="781.5" r="0.45" fill="#bbb"/><circle cx="976.5" cy="761.5" r="0.55" fill="#bbb"/><circle cx="1060.5" cy="774.7" r="0.45" fill="#aaa"/><circle cx="1148.2" cy="768.2" r="0.5" fill="#bbb"/><circle cx="948.4" cy="783.4" r="0.5" fill="#ccc"/><circle cx="948.1" cy="780.9" r="0.45" fill="#666"/><circle cx="1130.8" cy="766.3" r="0.5" fill="#bbb"/><circle cx="955.2" cy="761.5" r="0.5" fill="#bbb"/><circle cx="1140.2" cy="764.9" r="0.6" fill="#999"/><circle cx="937.8" cy="788.7" r="0.6" fill="#ccc"/><circle cx="948.0" cy="801.7" r="0.55" fill="#aaa"/><circle cx="1151.0" cy="790.7" r="0.6" fill="#aaa"/><circle cx="1025.3" cy="794.4" r="0.55" fill="#bbb"/><circle cx="1095.9" cy="768.7" r="0.5" fill="#aaa"/><circle cx="1123.2" cy="767.2" r="0.45" fill="#ccc"/><circle cx="962.5" cy="764.8" r="0.55" fill="#bbb"/><circle cx="1007.4" cy="760.2" r="0.5" fill="#888"/><circle cx="1115.6" cy="775.1" r="0.6" fill="#bbb"/><circle cx="980.4" cy="762.9" r="0.6" fill="#bbb"/><circle cx="1024.4" cy="785.8" r="0.6" fill="#bbb"/><circle cx="963.6" cy="765.1" r="0.55" fill="#888"/><circle cx="1059.5" cy="777.6" r="0.45" fill="#ccc"/><circle cx="1001.7" cy="796.8" r="0.45" fill="#bbb"/><circle cx="1100.6" cy="779.1" r="0.6" fill="#ccc"/><circle cx="980.0" cy="777.4" r="0.6" fill="#aaa"/><circle cx="1091.2" cy="775.4" r="0.55" fill="#bbb"/><circle cx="1077.3" cy="787.8" r="0.55" fill="#bbb"/><circle cx="1096.8" cy="760.4" r="0.45" fill="#aaa"/><circle cx="1033.7" cy="765.5" r="0.6" fill="#bbb"/><circle cx="1036.0" cy="774.3" r="0.45" fill="#888"/><circle cx="1044.2" cy="768.8" r="0.45" fill="#bbb"/><circle cx="1024.3" cy="790.5" r="0.45" fill="#bbb"/><circle cx="1098.4" cy="766.5" r="0.55" fill="#888"/><circle cx="972.9" cy="781.3" r="0.45" fill="#ccc"/><circle cx="1174.6" cy="801.2" r="0.6" fill="#ccc"/><circle cx="1138.9" cy="787.4" r="0.45" fill="#888"/><circle cx="946.7" cy="779.5" r="0.5" fill="#ccc"/><circle cx="1060.5" cy="784.6" r="0.55" fill="#ccc"/><circle cx="1139.3" cy="781.7" r="0.45" fill="#888"/><circle cx="930.8" cy="800.4" r="0.6" fill="#bbb"/><circle cx="1125.6" cy="765.0" r="0.5" fill="#ccc"/><circle cx="933.9" cy="796.3" r="0.45" fill="#666"/><circle cx="1018.4" cy="782.6" r="0.45" fill="#ddd"/><circle cx="1125.7" cy="763.9" r="0.45" fill="#ddd"/><circle cx="947.0" cy="770.0" r="0.55" fill="#888"/><circle cx="1004.0" cy="792.8" r="0.6" fill="#aaa"/><circle cx="1047.5" cy="801.8" r="0.5" fill="#ccc"/><circle cx="1070.7" cy="779.3" r="0.5" fill="#888"/><circle cx="966.2" cy="783.8" r="0.6" fill="#999"/><circle cx="1085.8" cy="800.7" r="0.6" fill="#888"/><circle cx="1137.3" cy="769.6" r="0.6" fill="#888"/><circle cx="969.4" cy="782.4" r="0.6" fill="#666"/><circle cx="957.7" cy="772.6" r="0.45" fill="#ddd"/><circle cx="1028.2" cy="772.6" r="0.55" fill="#aaa"/><circle cx="1065.3" cy="787.7" r="0.55" fill="#ccc"/><circle cx="1155.8" cy="768.5" r="0.5" fill="#ddd"/><circle cx="1073.1" cy="781.1" r="0.6" fill="#888"/><circle cx="1087.7" cy="771.2" r="0.5" fill="#bbb"/><circle cx="1022.7" cy="778.1" r="0.6" fill="#ccc"/><circle cx="1020.3" cy="778.1" r="0.45" fill="#ccc"/><circle cx="942.4" cy="795.2" r="0.5" fill="#666"/><circle cx="1063.0" cy="783.1" r="0.5" fill="#ccc"/><circle cx="1100.1" cy="790.1" r="0.55" fill="#666"/><circle cx="1020.6" cy="800.1" r="0.6" fill="#ddd"/><circle cx="1114.8" cy="775.7" r="0.45" fill="#888"/><circle cx="1103.3" cy="775.0" r="0.55" fill="#aaa"/><circle cx="1172.9" cy="789.2" r="0.5" fill="#bbb"/><circle cx="1083.5" cy="784.8" r="0.5" fill="#bbb"/><circle cx="1055.4" cy="781.7" r="0.45" fill="#bbb"/><circle cx="1145.7" cy="768.9" r="0.6" fill="#bbb"/><circle cx="1093.1" cy="775.7" r="0.55" fill="#888"/><circle cx="1074.2" cy="764.0" r="0.5" fill="#ccc"/><circle cx="1139.6" cy="773.8" r="0.5" fill="#bbb"/><circle cx="1136.5" cy="793.2" r="0.45" fill="#bbb"/><circle cx="1182.0" cy="780.6" r="0.45" fill="#ccc"/><circle cx="1069.1" cy="799.1" r="0.5" fill="#666"/><circle cx="1076.1" cy="760.1" r="0.6" fill="#ccc"/><circle cx="1014.5" cy="786.4" r="0.5" fill="#888"/><circle cx="1127.0" cy="778.5" r="0.6" fill="#999"/><circle cx="1120.8" cy="788.5" r="0.6" fill="#888"/><circle cx="1010.6" cy="791.0" r="0.45" fill="#888"/><circle cx="1171.1" cy="775.0" r="0.45" fill="#ddd"/><circle cx="1107.2" cy="776.7" r="0.45" fill="#ddd"/><circle cx="1162.5" cy="768.8" r="0.55" fill="#ccc"/><circle cx="1065.2" cy="795.4" r="0.5" fill="#888"/><circle cx="1150.2" cy="779.9" r="0.6" fill="#666"/><circle cx="1164.6" cy="768.4" r="0.6" fill="#ccc"/><circle cx="1040.0" cy="793.7" r="0.6" fill="#ddd"/><circle cx="956.4" cy="791.3" r="0.55" fill="#999"/><circle cx="980.9" cy="774.5" r="0.55" fill="#999"/><circle cx="1025.0" cy="793.9" r="0.6" fill="#ccc"/><circle cx="1074.7" cy="795.5" r="0.5" fill="#bbb"/><circle cx="1051.1" cy="801.4" r="0.45" fill="#bbb"/><circle cx="1105.8" cy="769.8" r="0.55" fill="#bbb"/><circle cx="1114.1" cy="784.2" r="0.45" fill="#bbb"/><circle cx="1132.3" cy="770.7" r="0.5" fill="#aaa"/><circle cx="1039.0" cy="786.0" r="0.5" fill="#ddd"/><circle cx="1176.0" cy="798.4" r="0.6" fill="#ccc"/><circle cx="1052.7" cy="769.7" r="0.55" fill="#888"/><circle cx="1056.2" cy="766.3" r="0.5" fill="#bbb"/><circle cx="1069.0" cy="774.0" r="0.6" fill="#999"/><circle cx="1169.7" cy="792.2" r="0.45" fill="#bbb"/><circle cx="992.2" cy="766.5" r="0.55" fill="#aaa"/><circle cx="960.4" cy="792.3" r="0.55" fill="#999"/><circle cx="1103.7" cy="775.3" r="0.55" fill="#bbb"/><circle cx="957.7" cy="775.0" r="0.55" fill="#999"/><circle cx="1098.3" cy="772.0" r="0.5" fill="#ddd"/><circle cx="996.1" cy="763.1" r="0.55" fill="#666"/><circle cx="1130.1" cy="799.8" r="0.6" fill="#999"/><circle cx="970.3" cy="796.3" r="0.45" fill="#999"/><circle cx="1067.0" cy="790.9" r="0.55" fill="#ddd"/><circle cx="1007.2" cy="778.0" r="0.5" fill="#bbb"/><circle cx="1051.2" cy="788.9" r="0.5" fill="#bbb"/><circle cx="1167.9" cy="781.3" r="0.5" fill="#bbb"/><circle cx="948.9" cy="783.2" r="0.55" fill="#888"/><circle cx="1157.3" cy="764.2" r="0.5" fill="#888"/><circle cx="1179.3" cy="773.0" r="0.45" fill="#999"/><circle cx="1169.3" cy="788.0" r="0.45" fill="#999"/><circle cx="1034.1" cy="765.9" r="0.45" fill="#ddd"/><circle cx="1040.1" cy="788.6" r="0.55" fill="#888"/><circle cx="1084.4" cy="799.0" r="0.6" fill="#888"/><circle cx="965.1" cy="768.1" r="0.45" fill="#ccc"/><circle cx="1070.5" cy="801.0" r="0.45" fill="#ddd"/><circle cx="963.9" cy="772.6" r="0.5" fill="#bbb"/><circle cx="1107.0" cy="799.6" r="0.5" fill="#ddd"/><circle cx="1146.4" cy="799.4" r="0.6" fill="#666"/><circle cx="1130.5" cy="802.1" r="0.5" fill="#bbb"/><circle cx="951.7" cy="781.9" r="0.45" fill="#666"/><circle cx="958.1" cy="796.7" r="0.6" fill="#666"/><circle cx="938.0" cy="795.0" r="0.45" fill="#ddd"/><circle cx="930.1" cy="762.8" r="0.6" fill="#aaa"/><circle cx="1140.1" cy="777.1" r="0.5" fill="#bbb"/><circle cx="1017.3" cy="760.5" r="0.55" fill="#aaa"/><circle cx="942.0" cy="775.5" r="0.55" fill="#bbb"/><circle cx="1044.6" cy="769.8" r="0.5" fill="#ccc"/><circle cx="980.5" cy="768.8" r="0.6" fill="#ccc"/><circle cx="985.6" cy="798.8" r="0.5" fill="#999"/><circle cx="1100.9" cy="785.7" r="0.55" fill="#ddd"/><circle cx="1074.5" cy="760.8" r="0.5" fill="#bbb"/><circle cx="946.5" cy="781.5" r="0.45" fill="#aaa"/><circle cx="1129.2" cy="782.7" r="0.5" fill="#888"/><circle cx="1041.3" cy="761.8" r="0.5" fill="#ddd"/><circle cx="1023.4" cy="775.0" r="0.6" fill="#888"/><circle cx="1182.1" cy="777.6" r="0.55" fill="#aaa"/><circle cx="1180.2" cy="768.7" r="0.45" fill="#bbb"/><circle cx="1049.9" cy="794.5" r="0.45" fill="#666"/><circle cx="1055.7" cy="776.0" r="0.6" fill="#888"/><circle cx="1160.5" cy="766.0" r="0.5" fill="#aaa"/><circle cx="1151.4" cy="800.5" r="0.55" fill="#bbb"/><circle cx="964.8" cy="765.7" r="0.45" fill="#bbb"/><circle cx="978.5" cy="765.6" r="0.6" fill="#aaa"/><circle cx="1022.5" cy="790.6" r="0.5" fill="#bbb"/><circle cx="1166.7" cy="762.9" r="0.55" fill="#999"/><circle cx="1100.5" cy="765.1" r="0.5" fill="#bbb"/><circle cx="1076.8" cy="771.5" r="0.6" fill="#ddd"/><circle cx="1122.1" cy="782.2" r="0.45" fill="#888"/><circle cx="1094.7" cy="760.6" r="0.5" fill="#bbb"/><circle cx="970.3" cy="773.9" r="0.55" fill="#888"/><circle cx="1051.9" cy="797.7" r="0.55" fill="#ccc"/><circle cx="1082.0" cy="795.7" r="0.45" fill="#ccc"/><circle cx="978.0" cy="799.8" r="0.6" fill="#666"/><circle cx="1122.3" cy="776.8" r="0.55" fill="#666"/><circle cx="971.0" cy="767.2" r="0.45" fill="#aaa"/><circle cx="936.0" cy="777.8" r="0.45" fill="#ccc"/><circle cx="1047.2" cy="767.6" r="0.5" fill="#666"/><circle cx="1006.6" cy="761.7" r="0.55" fill="#bbb"/><circle cx="1103.3" cy="770.5" r="0.5" fill="#bbb"/><circle cx="1019.8" cy="797.3" r="0.6" fill="#ccc"/><circle cx="1066.1" cy="779.4" r="0.6" fill="#bbb"/><circle cx="988.7" cy="799.5" r="0.6" fill="#999"/><circle cx="1058.2" cy="801.5" r="0.5" fill="#bbb"/><circle cx="1165.4" cy="773.2" r="0.6" fill="#ddd"/><circle cx="969.6" cy="800.0" r="0.45" fill="#bbb"/><circle cx="1089.8" cy="760.0" r="0.45" fill="#ccc"/><circle cx="1055.3" cy="798.9" r="0.6" fill="#ddd"/><circle cx="1102.8" cy="787.9" r="0.55" fill="#ccc"/><circle cx="1055.4" cy="795.7" r="0.45" fill="#ccc"/><circle cx="952.6" cy="780.9" r="0.45" fill="#ccc"/><circle cx="1091.6" cy="800.9" r="0.6" fill="#bbb"/><circle cx="942.6" cy="771.8" r="0.5" fill="#666"/><circle cx="1077.0" cy="776.8" r="0.55" fill="#666"/><circle cx="979.1" cy="786.7" r="0.6" fill="#888"/><circle cx="1018.9" cy="762.4" r="0.6" fill="#888"/><circle cx="1146.6" cy="766.3" r="0.55" fill="#bbb"/><circle cx="1163.5" cy="787.3" r="0.55" fill="#ccc"/><circle cx="1176.7" cy="798.7" r="0.55" fill="#aaa"/><circle cx="1134.1" cy="793.8" r="0.45" fill="#999"/><circle cx="1135.4" cy="772.7" r="0.45" fill="#aaa"/><circle cx="1161.8" cy="760.9" r="0.55" fill="#ddd"/><circle cx="1048.7" cy="787.1" r="0.45" fill="#ccc"/><circle cx="1176.1" cy="766.7" r="0.55" fill="#bbb"/><circle cx="1149.7" cy="773.0" r="0.55" fill="#999"/><circle cx="1178.3" cy="786.2" r="0.45" fill="#999"/><circle cx="1039.9" cy="777.1" r="0.45" fill="#ccc"/><circle cx="1073.4" cy="799.8" r="0.5" fill="#ccc"/><circle cx="1026.9" cy="774.8" r="0.5" fill="#666"/><circle cx="1056.0" cy="801.3" r="0.45" fill="#aaa"/><circle cx="1105.0" cy="781.7" r="0.6" fill="#bbb"/><circle cx="998.7" cy="767.8" r="0.45" fill="#bbb"/><circle cx="1013.3" cy="799.1" r="0.55" fill="#666"/><circle cx="1064.3" cy="784.5" r="0.6" fill="#bbb"/><circle cx="1125.1" cy="774.0" r="0.5" fill="#bbb"/><circle cx="1061.7" cy="780.5" r="0.45" fill="#666"/><circle cx="1147.4" cy="782.5" r="0.5" fill="#ccc"/><circle cx="1002.6" cy="799.4" r="0.5" fill="#bbb"/><circle cx="1039.4" cy="776.7" r="0.45" fill="#bbb"/><circle cx="1171.7" cy="772.4" r="0.6" fill="#ddd"/><circle cx="984.2" cy="798.8" r="0.45" fill="#ccc"/><circle cx="960.7" cy="778.2" r="0.55" fill="#ccc"/><circle cx="1077.8" cy="777.7" r="0.45" fill="#666"/><circle cx="977.7" cy="792.3" r="0.5" fill="#666"/><circle cx="976.2" cy="800.9" r="0.55" fill="#bbb"/><circle cx="1123.3" cy="787.3" r="0.6" fill="#666"/><circle cx="945.2" cy="801.2" r="0.5" fill="#ccc"/><circle cx="1170.7" cy="797.5" r="0.45" fill="#666"/><circle cx="930.4" cy="779.6" r="0.5" fill="#ccc"/><circle cx="1180.9" cy="781.0" r="0.6" fill="#aaa"/><circle cx="1135.4" cy="770.1" r="0.45" fill="#ccc"/><circle cx="951.8" cy="783.8" r="0.45" fill="#aaa"/><circle cx="1073.7" cy="776.9" r="0.45" fill="#ccc"/><circle cx="1117.3" cy="790.8" r="0.5" fill="#888"/><circle cx="1170.4" cy="795.9" r="0.55" fill="#ccc"/><circle cx="1163.5" cy="786.9" r="0.55" fill="#bbb"/><circle cx="935.4" cy="795.2" r="0.6" fill="#ddd"/><circle cx="1116.3" cy="796.7" r="0.55" fill="#aaa"/><circle cx="938.4" cy="763.8" r="0.6" fill="#bbb"/><circle cx="982.1" cy="787.9" r="0.6" fill="#aaa"/><circle cx="1039.7" cy="768.8" r="0.6" fill="#666"/><circle cx="1150.0" cy="786.2" r="0.6" fill="#888"/><circle cx="1115.3" cy="786.4" r="0.6" fill="#ddd"/><circle cx="1096.2" cy="788.6" r="0.6" fill="#ddd"/><circle cx="1153.4" cy="763.1" r="0.55" fill="#aaa"/><circle cx="987.6" cy="785.5" r="0.6" fill="#ccc"/><circle cx="983.5" cy="772.5" r="0.55" fill="#888"/><circle cx="1072.0" cy="776.5" r="0.55" fill="#ccc"/><circle cx="1123.2" cy="770.9" r="0.5" fill="#ccc"/><circle cx="1147.8" cy="772.6" r="0.6" fill="#aaa"/><circle cx="945.0" cy="784.6" r="0.6" fill="#aaa"/><circle cx="946.7" cy="801.3" r="0.55" fill="#bbb"/><circle cx="1075.9" cy="770.5" r="0.6" fill="#ddd"/><circle cx="1067.2" cy="801.7" r="0.55" fill="#999"/><circle cx="1134.1" cy="781.4" r="0.55" fill="#666"/><circle cx="1120.8" cy="774.4" r="0.55" fill="#ccc"/><circle cx="972.0" cy="786.4" r="0.6" fill="#ccc"/><circle cx="1002.8" cy="794.0" r="0.5" fill="#ccc"/><circle cx="954.6" cy="761.9" r="0.6" fill="#ccc"/><circle cx="1073.5" cy="800.2" r="0.6" fill="#bbb"/><circle cx="1121.3" cy="763.1" r="0.5" fill="#bbb"/><circle cx="1104.0" cy="794.9" r="0.55" fill="#ccc"/><circle cx="966.8" cy="784.4" r="0.45" fill="#ddd"/><circle cx="1066.0" cy="776.7" r="0.5" fill="#ccc"/><circle cx="1128.7" cy="786.4" r="0.5" fill="#aaa"/><circle cx="974.8" cy="764.9" r="0.45" fill="#888"/><circle cx="1116.3" cy="771.1" r="0.45" fill="#ccc"/><circle cx="1105.3" cy="761.1" r="0.55" fill="#bbb"/><circle cx="983.2" cy="789.7" r="0.55" fill="#bbb"/><circle cx="1134.6" cy="798.2" r="0.55" fill="#ccc"/><circle cx="936.9" cy="798.7" r="0.55" fill="#bbb"/><circle cx="986.2" cy="769.3" r="0.5" fill="#bbb"/><circle cx="1093.2" cy="798.9" r="0.6" fill="#ccc"/><circle cx="974.2" cy="767.6" r="0.6" fill="#999"/><circle cx="1019.5" cy="789.8" r="0.55" fill="#aaa"/><circle cx="1149.9" cy="769.5" r="0.45" fill="#bbb"/><circle cx="987.6" cy="790.3" r="0.45" fill="#666"/><circle cx="1123.3" cy="788.7" r="0.45" fill="#666"/><circle cx="1011.6" cy="785.0" r="0.6" fill="#ccc"/><circle cx="945.7" cy="764.2" r="0.5" fill="#666"/><circle cx="1069.5" cy="761.8" r="0.55" fill="#999"/><circle cx="943.4" cy="792.9" r="0.45" fill="#aaa"/><circle cx="1019.7" cy="775.1" r="0.55" fill="#aaa"/><circle cx="1005.5" cy="760.5" r="0.55" fill="#bbb"/><circle cx="1034.9" cy="767.2" r="0.45" fill="#999"/><circle cx="970.9" cy="764.0" r="0.5" fill="#ddd"/><circle cx="1008.6" cy="797.4" r="0.5" fill="#ccc"/><circle cx="1034.1" cy="776.4" r="0.55" fill="#ddd"/><circle cx="1048.1" cy="782.3" r="0.5" fill="#ddd"/><circle cx="1001.8" cy="772.4" r="0.45" fill="#ccc"/><circle cx="1093.3" cy="761.6" r="0.55" fill="#ccc"/><circle cx="1061.5" cy="775.4" r="0.6" fill="#ddd"/><circle cx="1104.3" cy="791.4" r="0.45" fill="#ccc"/><circle cx="1030.1" cy="783.3" r="0.45" fill="#aaa"/><circle cx="957.5" cy="782.5" r="0.6" fill="#bbb"/><circle cx="1059.7" cy="773.0" r="0.55" fill="#bbb"/><circle cx="1179.7" cy="763.1" r="0.45" fill="#888"/><circle cx="1148.4" cy="793.7" r="0.6" fill="#888"/><circle cx="1071.7" cy="799.6" r="0.45" fill="#ccc"/><circle cx="1076.8" cy="767.2" r="0.5" fill="#ccc"/><circle cx="1099.9" cy="769.1" r="0.55" fill="#ccc"/><circle cx="1179.5" cy="798.9" r="0.45" fill="#666"/><circle cx="985.4" cy="787.7" r="0.45" fill="#aaa"/><circle cx="991.1" cy="773.1" r="0.45" fill="#999"/><circle cx="1176.2" cy="767.7" r="0.5" fill="#aaa"/><circle cx="1121.2" cy="762.3" r="0.5" fill="#666"/><circle cx="1129.4" cy="786.7" r="0.6" fill="#999"/><circle cx="1092.6" cy="801.5" r="0.5" fill="#bbb"/><circle cx="1010.5" cy="764.8" r="0.45" fill="#666"/><circle cx="1148.3" cy="772.8" r="0.6" fill="#bbb"/><circle cx="1110.2" cy="767.7" r="0.45" fill="#ccc"/><circle cx="990.4" cy="771.7" r="0.45" fill="#aaa"/><circle cx="946.5" cy="767.8" r="0.6" fill="#aaa"/><circle cx="1003.0" cy="795.6" r="0.6" fill="#888"/><circle cx="1165.7" cy="773.4" r="0.45" fill="#666"/><circle cx="1033.4" cy="784.8" r="0.55" fill="#888"/><circle cx="942.2" cy="761.1" r="0.55" fill="#bbb"/><circle cx="1028.1" cy="799.8" r="0.5" fill="#999"/><circle cx="1056.1" cy="781.0" r="0.6" fill="#aaa"/><circle cx="977.7" cy="790.6" r="0.45" fill="#888"/><circle cx="962.7" cy="776.1" r="0.6" fill="#aaa"/><circle cx="1086.2" cy="791.4" r="0.45" fill="#bbb"/><circle cx="1018.4" cy="762.7" r="0.5" fill="#bbb"/><circle cx="1085.0" cy="797.8" r="0.6" fill="#aaa"/><circle cx="966.5" cy="790.1" r="0.55" fill="#999"/><circle cx="1081.6" cy="798.7" r="0.45" fill="#666"/><circle cx="987.9" cy="767.5" r="0.45" fill="#ccc"/><circle cx="1040.1" cy="763.0" r="0.5" fill="#ddd"/><circle cx="947.7" cy="794.9" r="0.6" fill="#ccc"/><circle cx="967.6" cy="783.9" r="0.45" fill="#ddd"/><circle cx="1027.8" cy="780.0" r="0.45" fill="#666"/><circle cx="978.7" cy="774.1" r="0.6" fill="#666"/><circle cx="1153.8" cy="784.8" r="0.55" fill="#ccc"/><circle cx="1066.6" cy="799.7" r="0.5" fill="#999"/><circle cx="1026.6" cy="789.9" r="0.45" fill="#bbb"/><circle cx="1159.0" cy="761.6" r="0.55" fill="#bbb"/><circle cx="1003.7" cy="791.6" r="0.5" fill="#888"/><circle cx="1088.3" cy="796.5" r="0.55" fill="#bbb"/><circle cx="958.3" cy="801.3" r="0.55" fill="#ccc"/><circle cx="1078.9" cy="788.5" r="0.5" fill="#bbb"/>
<line x1="997.20" y1="834.40" x2="997.20" y2="862.50" stroke="#666" stroke-width="1" />
<line x1="997.20" y1="877.00" x2="997.20" y2="938.00" stroke="#666" stroke-width="1" />
<line x1="1163.40" y1="834.40" x2="1163.40" y2="862.50" stroke="#555" stroke-width="1" />
<line x1="1163.40" y1="877.20" x2="1163.40" y2="899.00" stroke="#555" stroke-width="1" />
<line x1="1163.40" y1="915.00" x2="1163.40" y2="938.00" stroke="#555" stroke-width="1" />
<g fill="none" stroke-width="1.4" stroke-linecap="round">
<path d="M 951.4 804 C 950.6 810 950.2 814 950.6 819 C 951.5 830 953 840 956.6 846.6 C 960 853 965 858.8 971.4 862.5 C 976 865.4 981 866.6 986.4 867.3 C 992 868 997 868.6 1001.4 870.5 C 1005.6 872.4 1008.6 874.6 1008.9 877.8 C 1009.2 880.6 1008.2 882.8 1006.8 885" stroke="#1a1aff"/>
<path d="M 955.5 804 C 955.3 810 955.3 815 955.9 819.8 C 957.2 830 960 838.4 965 844.4 C 969.4 850 974.4 855 980 858.2 C 985.4 861.2 991 863 997.1 864.6 C 1003 866.2 1008.4 868.4 1012.1 872.1 C 1014.4 874.2 1015.5 876.2 1015.4 878.8 C 1015.2 882 1013.6 885 1012.1 887.8" stroke="#ffff00"/>
<path d="M 961.3 804 C 961.2 809 961.3 814 961.8 818.6 C 962.6 825 964.8 830.6 968.2 835.8 C 971.4 840.8 975.4 845.4 980 848.6 C 985.4 852.4 991 855.4 997.1 857.8 C 1003 860 1009 862.4 1014.3 865.8 C 1018.6 868.6 1021.8 871.6 1022.9 875.6 C 1023.6 878.6 1023.4 881.8 1022.9 885 C 1022.4 888.4 1021.6 891.6 1020.7 894.8" stroke="#ff1a1a"/>
</g>
<g fill="none" stroke="#111" stroke-linecap="round">
<path d="M 1001.7 838.6 V 827 Q 1001.7 822.8 1005.6 822.8 H 1155.2 Q 1159.2 822.8 1159.2 827 V 838.6" stroke-width="1.5"/>
<path d="M 1002.4 831 Q 1002.6 827 1006.2 826.9 H 1154.6 Q 1158.2 827 1158.5 831" stroke-width="0.8"/>
</g>
<line x1="1030.90" y1="824.90" x2="1046.40" y2="824.90" stroke="#333" stroke-width="1.6" />
<line x1="1114.80" y1="824.90" x2="1130.30" y2="824.90" stroke="#333" stroke-width="1.6" />
<ellipse cx="1063.6" cy="825" rx="1.9" ry="1.5" fill="#ccc" stroke="#555" stroke-width="0.7"/>
<ellipse cx="1096.8" cy="825" rx="1.9" ry="1.5" fill="#ccc" stroke="#555" stroke-width="0.7"/>
<g transform="rotate(-90 1038.60 775.60)"><g fill="#000" stroke="none"><rect x="1005.20" y="768.90" width="3.2" height="13.4" rx="0.6"/><path d="M 1008.20 770.80 H 1033.20 L 1038.60 775.60 L 1033.20 780.40 H 1008.20 Z"/><path d="M 1020.20 770.80 l 1.4 -0.8 l 1 0.8 Z M 1020.20 780.40 l 1.4 0.8 l 1 -0.8 Z"/><path d="M 1023.10 770.80 l 1.4 -0.8 l 1 0.8 Z M 1023.10 780.40 l 1.4 0.8 l 1 -0.8 Z"/><path d="M 1026.00 770.80 l 1.4 -0.8 l 1 0.8 Z M 1026.00 780.40 l 1.4 0.8 l 1 -0.8 Z"/><path d="M 1028.90 770.80 l 1.4 -0.8 l 1 0.8 Z M 1028.90 780.40 l 1.4 0.8 l 1 -0.8 Z"/><path d="M 1031.80 770.80 l 1.4 -0.8 l 1 0.8 Z M 1031.80 780.40 l 1.4 0.8 l 1 -0.8 Z"/></g><g fill="#fff"><rect x="1020.40" y="773.20" width="0.8" height="0.9" opacity="0.85"/><rect x="1020.40" y="775.30" width="0.8" height="0.9" opacity="0.85"/><rect x="1020.40" y="777.50" width="0.8" height="0.9" opacity="0.85"/><rect x="1023.30" y="773.20" width="0.8" height="0.9" opacity="0.85"/><rect x="1023.30" y="775.30" width="0.8" height="0.9" opacity="0.85"/><rect x="1023.30" y="777.50" width="0.8" height="0.9" opacity="0.85"/><rect x="1026.20" y="773.20" width="0.8" height="0.9" opacity="0.85"/><rect x="1026.20" y="775.30" width="0.8" height="0.9" opacity="0.85"/><rect x="1026.20" y="777.50" width="0.8" height="0.9" opacity="0.85"/><rect x="1029.10" y="773.20" width="0.8" height="0.9" opacity="0.85"/><rect x="1029.10" y="775.30" width="0.8" height="0.9" opacity="0.85"/><rect x="1029.10" y="777.50" width="0.8" height="0.9" opacity="0.85"/><rect x="1032.00" y="773.20" width="0.8" height="0.9" opacity="0.85"/><rect x="1032.00" y="775.30" width="0.8" height="0.9" opacity="0.85"/><rect x="1032.00" y="777.50" width="0.8" height="0.9" opacity="0.85"/><rect x="1009.70" y="776.00" width="9" height="0.7" opacity="0.6"/></g></g>
<line x1="1038.60" y1="809.00" x2="1038.60" y2="839.00" stroke="#555" stroke-width="0.9" />
<g fill="none" stroke="#222"><ellipse cx="1038.6" cy="838.8" rx="11.5" ry="3.9" stroke-width="1.1" fill="#fff"/><ellipse cx="1038.6" cy="839.2" rx="8" ry="2.2" stroke-width="0.8"/></g>
<line x1="1038.60" y1="832.00" x2="1038.60" y2="838.50" stroke="#555" stroke-width="0.9" />
<g transform="rotate(-89.40 1038.60 845.80)"><g fill="#fff" stroke="#151515" stroke-width="0.85"><path d="M 990.70 836.00 C 986.70 836.40 984.30 840.80 984.30 845.80 C 984.30 850.80 986.70 855.20 990.70 855.60 Z"/><path d="M 983.70 844.70 h 3.2 v 2.2 h -3.2" fill="none"/><path d="M 990.70 841.30 h 5 l 0.8 1 v 6.8 l -0.8 1 h -5" fill="#fff"/><path d="M 996.30 841.50 C 998.50 841.50 999.70 847.52 998.90 850.10 C 996.90 850.10 995.50 844.08 996.30 841.50 Z" stroke-width="0.85"/><path d="M 999.45 841.50 C 1001.65 841.50 1002.85 847.52 1002.05 850.10 C 1000.05 850.10 998.65 844.08 999.45 841.50 Z" stroke-width="0.85"/><path d="M 1002.60 841.50 C 1004.80 841.50 1006.00 847.52 1005.20 850.10 C 1003.20 850.10 1001.80 844.08 1002.60 841.50 Z" stroke-width="0.85"/><path d="M 1005.75 841.50 C 1007.95 841.50 1009.15 847.52 1008.35 850.10 C 1006.35 850.10 1004.95 844.08 1005.75 841.50 Z" stroke-width="0.85"/><path d="M 1008.90 841.50 C 1011.10 841.50 1012.30 847.52 1011.50 850.10 C 1009.50 850.10 1008.10 844.08 1008.90 841.50 Z" stroke-width="0.85"/><path d="M 1012.05 841.50 C 1014.25 841.50 1015.45 847.52 1014.65 850.10 C 1012.65 850.10 1011.25 844.08 1012.05 841.50 Z" stroke-width="0.85"/><path d="M 1015.20 841.50 C 1017.40 841.50 1018.60 847.52 1017.80 850.10 C 1015.80 850.10 1014.40 844.08 1015.20 841.50 Z" stroke-width="0.85"/><path d="M 1018.35 841.50 C 1020.55 841.50 1021.75 847.52 1020.95 850.10 C 1018.95 850.10 1017.55 844.08 1018.35 841.50 Z" stroke-width="0.85"/><path d="M 1021.50 841.50 C 1023.70 841.50 1024.90 847.52 1024.10 850.10 C 1022.10 850.10 1020.70 844.08 1021.50 841.50 Z" stroke-width="0.85"/><path d="M 1024.65 841.50 C 1026.85 841.50 1028.05 847.52 1027.25 850.10 C 1025.25 850.10 1023.85 844.08 1024.65 841.50 Z" stroke-width="0.85"/><path d="M 1027.80 842.27 C 1030.00 842.27 1031.20 847.21 1030.40 849.33 C 1028.40 849.33 1027.00 844.39 1027.80 842.27 Z" stroke-width="0.85"/><path d="M 1030.95 843.24 C 1033.15 843.24 1034.35 846.83 1033.55 848.36 C 1031.55 848.36 1030.15 844.77 1030.95 843.24 Z" stroke-width="0.85"/><path d="M 1034.10 844.20 C 1036.30 844.20 1037.50 846.44 1036.70 847.40 C 1034.70 847.40 1033.30 845.16 1034.10 844.20 Z" stroke-width="0.85"/><path d="M 1035.30 844.80 L 1038.60 845.80 L 1035.30 846.80" fill="none" stroke-width="0.7"/></g></g>
<g transform="rotate(-90 1122.70 775.60)"><g fill="#000" stroke="none"><rect x="1089.30" y="768.90" width="3.2" height="13.4" rx="0.6"/><path d="M 1092.30 770.80 H 1117.30 L 1122.70 775.60 L 1117.30 780.40 H 1092.30 Z"/><path d="M 1104.30 770.80 l 1.4 -0.8 l 1 0.8 Z M 1104.30 780.40 l 1.4 0.8 l 1 -0.8 Z"/><path d="M 1107.20 770.80 l 1.4 -0.8 l 1 0.8 Z M 1107.20 780.40 l 1.4 0.8 l 1 -0.8 Z"/><path d="M 1110.10 770.80 l 1.4 -0.8 l 1 0.8 Z M 1110.10 780.40 l 1.4 0.8 l 1 -0.8 Z"/><path d="M 1113.00 770.80 l 1.4 -0.8 l 1 0.8 Z M 1113.00 780.40 l 1.4 0.8 l 1 -0.8 Z"/><path d="M 1115.90 770.80 l 1.4 -0.8 l 1 0.8 Z M 1115.90 780.40 l 1.4 0.8 l 1 -0.8 Z"/></g><g fill="#fff"><rect x="1104.50" y="773.20" width="0.8" height="0.9" opacity="0.85"/><rect x="1104.50" y="775.30" width="0.8" height="0.9" opacity="0.85"/><rect x="1104.50" y="777.50" width="0.8" height="0.9" opacity="0.85"/><rect x="1107.40" y="773.20" width="0.8" height="0.9" opacity="0.85"/><rect x="1107.40" y="775.30" width="0.8" height="0.9" opacity="0.85"/><rect x="1107.40" y="777.50" width="0.8" height="0.9" opacity="0.85"/><rect x="1110.30" y="773.20" width="0.8" height="0.9" opacity="0.85"/><rect x="1110.30" y="775.30" width="0.8" height="0.9" opacity="0.85"/><rect x="1110.30" y="777.50" width="0.8" height="0.9" opacity="0.85"/><rect x="1113.20" y="773.20" width="0.8" height="0.9" opacity="0.85"/><rect x="1113.20" y="775.30" width="0.8" height="0.9" opacity="0.85"/><rect x="1113.20" y="777.50" width="0.8" height="0.9" opacity="0.85"/><rect x="1116.10" y="773.20" width="0.8" height="0.9" opacity="0.85"/><rect x="1116.10" y="775.30" width="0.8" height="0.9" opacity="0.85"/><rect x="1116.10" y="777.50" width="0.8" height="0.9" opacity="0.85"/><rect x="1093.80" y="776.00" width="9" height="0.7" opacity="0.6"/></g></g>
<line x1="1122.70" y1="809.00" x2="1122.70" y2="839.00" stroke="#555" stroke-width="0.9" />
<g fill="none" stroke="#222"><ellipse cx="1122.7" cy="838.8" rx="11.5" ry="3.9" stroke-width="1.1" fill="#fff"/><ellipse cx="1122.7" cy="839.2" rx="8" ry="2.2" stroke-width="0.8"/></g>
<line x1="1122.70" y1="832.00" x2="1122.70" y2="838.50" stroke="#555" stroke-width="0.9" />
<g transform="rotate(-91.30 1122.70 845.80)"><g fill="#fff" stroke="#151515" stroke-width="0.85"><path d="M 1074.80 836.00 C 1070.80 836.40 1068.40 840.80 1068.40 845.80 C 1068.40 850.80 1070.80 855.20 1074.80 855.60 Z"/><path d="M 1067.80 844.70 h 3.2 v 2.2 h -3.2" fill="none"/><path d="M 1074.80 841.30 h 5 l 0.8 1 v 6.8 l -0.8 1 h -5" fill="#fff"/><path d="M 1080.40 841.50 C 1082.60 841.50 1083.80 847.52 1083.00 850.10 C 1081.00 850.10 1079.60 844.08 1080.40 841.50 Z" stroke-width="0.85"/><path d="M 1083.55 841.50 C 1085.75 841.50 1086.95 847.52 1086.15 850.10 C 1084.15 850.10 1082.75 844.08 1083.55 841.50 Z" stroke-width="0.85"/><path d="M 1086.70 841.50 C 1088.90 841.50 1090.10 847.52 1089.30 850.10 C 1087.30 850.10 1085.90 844.08 1086.70 841.50 Z" stroke-width="0.85"/><path d="M 1089.85 841.50 C 1092.05 841.50 1093.25 847.52 1092.45 850.10 C 1090.45 850.10 1089.05 844.08 1089.85 841.50 Z" stroke-width="0.85"/><path d="M 1093.00 841.50 C 1095.20 841.50 1096.40 847.52 1095.60 850.10 C 1093.60 850.10 1092.20 844.08 1093.00 841.50 Z" stroke-width="0.85"/><path d="M 1096.15 841.50 C 1098.35 841.50 1099.55 847.52 1098.75 850.10 C 1096.75 850.10 1095.35 844.08 1096.15 841.50 Z" stroke-width="0.85"/><path d="M 1099.30 841.50 C 1101.50 841.50 1102.70 847.52 1101.90 850.10 C 1099.90 850.10 1098.50 844.08 1099.30 841.50 Z" stroke-width="0.85"/><path d="M 1102.45 841.50 C 1104.65 841.50 1105.85 847.52 1105.05 850.10 C 1103.05 850.10 1101.65 844.08 1102.45 841.50 Z" stroke-width="0.85"/><path d="M 1105.60 841.50 C 1107.80 841.50 1109.00 847.52 1108.20 850.10 C 1106.20 850.10 1104.80 844.08 1105.60 841.50 Z" stroke-width="0.85"/><path d="M 1108.75 841.50 C 1110.95 841.50 1112.15 847.52 1111.35 850.10 C 1109.35 850.10 1107.95 844.08 1108.75 841.50 Z" stroke-width="0.85"/><path d="M 1111.90 842.27 C 1114.10 842.27 1115.30 847.21 1114.50 849.33 C 1112.50 849.33 1111.10 844.39 1111.90 842.27 Z" stroke-width="0.85"/><path d="M 1115.05 843.24 C 1117.25 843.24 1118.45 846.83 1117.65 848.36 C 1115.65 848.36 1114.25 844.77 1115.05 843.24 Z" stroke-width="0.85"/><path d="M 1118.20 844.20 C 1120.40 844.20 1121.60 846.44 1120.80 847.40 C 1118.80 847.40 1117.40 845.16 1118.20 844.20 Z" stroke-width="0.85"/><path d="M 1119.40 844.80 L 1122.70 845.80 L 1119.40 846.80" fill="none" stroke-width="0.7"/></g></g>
<g transform="translate(977.20 834.40) rotate(0)"><g fill="#000"><ellipse cx="3.4" cy="0" rx="3.5" ry="5.2"/><path d="M 3 -3.1 H 12 Q 13.8 -3.1 13.8 0 Q 13.8 3.1 12 3.1 H 3 Z"/><path d="M 5 -4.8 Q 6.5 -3.2 8.5 -3.1 V 3.1 Q 6.5 3.2 5 4.8 Z"/></g></g>
<line x1="991.00" y1="834.40" x2="1001.40" y2="834.40" stroke="#333" stroke-width="0.9" />
<g transform="translate(1179.00 834.40) rotate(180)"><g fill="#000"><ellipse cx="3.4" cy="0" rx="3.5" ry="5.2"/><path d="M 3 -3.1 H 12 Q 13.8 -3.1 13.8 0 Q 13.8 3.1 12 3.1 H 3 Z"/><path d="M 5 -4.8 Q 6.5 -3.2 8.5 -3.1 V 3.1 Q 6.5 3.2 5 4.8 Z"/></g></g>
<line x1="1155.00" y1="834.40" x2="1165.60" y2="834.40" stroke="#333" stroke-width="0.9" />
<g fill="none" stroke="#000" stroke-linecap="round">
<path d="M 990.6 930.6 V 972 A 90.2 28.4 0 0 0 1170.9 972 V 930.6" stroke-width="1.7"/>
<ellipse cx="1080.75" cy="930.6" rx="90.15" ry="28.4" stroke-width="2"/>
<path d="M 991.6 928 C 992 936 996 941 1003 945.4" stroke-width="1.1"/>
<rect x="1074" y="908.4" width="14.6" height="6" stroke-width="1.4"/>
<rect x="1073" y="964" width="14.8" height="6" stroke-width="1.4"/>
<path d="M 1015.6 980 L 1021.6 977.6 V 982.6 Z M 1021.6 977.2 V 983" stroke-width="0.9"/>
</g>
<g fill="none" stroke-linecap="round">
<path d="M 998.9 917.8 C 1000 928 1008 937 1018.9 942.2 C 1030 946 1046 946 1060 945.6" stroke="#333" stroke-width="0.9"/>
<path d="M 1004.4 903.5 C 1004.6 910 1005 917 1006.1 923.3 C 1008 932 1015 940.6 1024.4 945.6 C 1034 949.8 1046 951.2 1056.7 952.2" stroke="#ffff00" stroke-width="1.4"/>
<path d="M 1010.6 906.8 V 922.2 C 1011.6 929 1016.6 934.6 1024.4 937.8 C 1035 941.4 1048 942.4 1060 943.3" stroke="#8a1030" stroke-width="1.2"/>
<path d="M 1040.4 952.4 C 1046 949.6 1052 947.6 1058 946.6" stroke="#444" stroke-width="0.9"/>
<path d="M 1087 943.4 C 1094 941.6 1101 941.6 1106 943.6 C 1110 945.8 1112.4 949 1113.6 952.8 M 1087 944.8 C 1094 943.4 1100 943.6 1104.4 945.6 C 1108 947.6 1110.4 950 1112 953 M 1087 946.4 C 1093 946.6 1098.6 949 1102.4 953.6 M 1087 947.4 C 1092 948.2 1096.4 950.2 1099.6 953.4" stroke="#333" stroke-width="0.8"/>
</g>
<path d="M 1060.8 947.6 V 941.2 L 1064.4 937 H 1083.6 L 1087.2 941.2 V 945.8 L 1086 947.6 Z" fill="#fff" stroke="#444" stroke-width="0.9"/>
<path d="M 1060.8 945.6 H 1087" stroke="#777" stroke-width="0.7"/>
<ellipse cx="1057.6" cy="949.8" rx="2.8" ry="2.6" fill="#1a0a0a"/><rect x="1056.8" y="948" width="1.4" height="3.4" fill="#a01818"/>
<g stroke="#000" stroke-linejoin="round" stroke-width="1.4" fill="#fff">
<path d="M 993.6 894.4 L 1014 904.4 L 1025 897 L 1025 904 L 1014 911.2 L 993.6 902.6 Z"/>
<path d="M 993.6 894.4 L 1004.4 887.6 L 1025 897 L 1014 904.4 Z"/>
<path d="M 1014 904.4 V 911.2"/>
<path d="M 997.6 888.8 L 1004.2 883.4 L 1020.2 891.6 L 1020 897.4 L 1014.4 901.6 L 997.6 893.6 Z" fill="#000"/>
</g>
<g fill="#fff">
<path d="M 999.20 890.80 l 3.6 1.7 v 3.4 l -3.6 -1.7 Z"/>
<path d="M 1002.60 886.60 l 3.2 1.5 l -1.6 1.3 l -3.2 -1.5 Z"/>
<path d="M 1004.80 893.50 l 3.6 1.7 v 3.4 l -3.6 -1.7 Z"/>
<path d="M 1008.20 889.30 l 3.2 1.5 l -1.6 1.3 l -3.2 -1.5 Z"/>
<path d="M 1010.40 896.20 l 3.6 1.7 v 3.4 l -3.6 -1.7 Z"/>
<path d="M 1013.80 892.00 l 3.2 1.5 l -1.6 1.3 l -3.2 -1.5 Z"/>
<path d="M 1015.6 899.6 l 3.6 -2.7 v -2.6 l -3.6 2.7 Z"/>
</g>
<g fill="none" stroke="#000" stroke-width="1.1">
<ellipse cx="997.40" cy="899.60" rx="1.5" ry="2.3"/>
<path d="M 1000.30 897.40 v 6.4"/>
<ellipse cx="1002.80" cy="902.00" rx="1.5" ry="2.3"/>
<path d="M 1005.70 899.80 v 6.4"/>
<ellipse cx="1008.20" cy="904.40" rx="1.5" ry="2.3"/>
<path d="M 1011.10 902.20 v 6.4"/>
</g>
<path d="M 1004.4 903.6 V 911" stroke="#ffff00" stroke-width="1.4"/>
<path d="M 1010.6 906.6 V 913" stroke="#8a1030" stroke-width="1.2"/>
</svg>
</body></html>
